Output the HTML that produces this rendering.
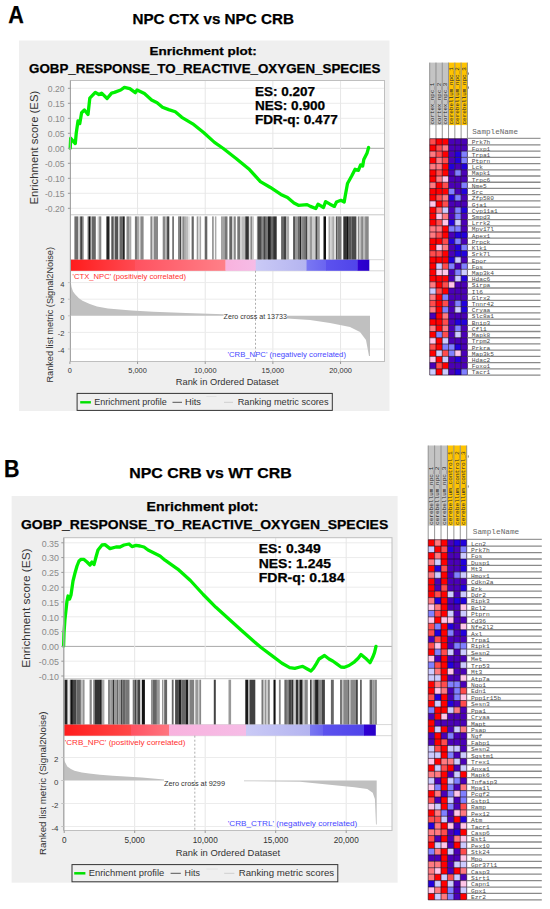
<!DOCTYPE html>
<html><head><meta charset="utf-8"><style>
html,body{margin:0;padding:0;background:#fff;width:550px;height:909px;overflow:hidden}
svg{display:block}
</style></head><body>
<svg width="550" height="909" viewBox="0 0 550 909">
<rect width="550" height="909" fill="#fff"/>
<text x="8.2" y="22.9" font-size="23.0" fill="#000" text-anchor="start" font-weight="bold" stroke="#000" stroke-width="0.25" textLength="15.6" lengthAdjust="spacingAndGlyphs" style='font-family:"Liberation Sans", sans-serif'>A</text>
<text x="132.4" y="23.6" font-size="14.6" fill="#000" text-anchor="start" font-weight="bold" stroke="#000" stroke-width="0.25" textLength="161.6" lengthAdjust="spacingAndGlyphs" style='font-family:"Liberation Sans", sans-serif'>NPC CTX vs NPC CRB</text>
<text x="4.1" y="476.9" font-size="23.2" fill="#000" text-anchor="start" font-weight="bold" stroke="#000" stroke-width="0.25" textLength="15.5" lengthAdjust="spacingAndGlyphs" style='font-family:"Liberation Sans", sans-serif'>B</text>
<text x="129.2" y="478.0" font-size="14.6" fill="#000" text-anchor="start" font-weight="bold" stroke="#000" stroke-width="0.25" textLength="162.6" lengthAdjust="spacingAndGlyphs" style='font-family:"Liberation Sans", sans-serif'>NPC CRB vs WT CRB</text>
<rect x="19.00" y="40.50" width="370.50" height="370.50" fill="#efefef"/>
<text x="149.6" y="54.6" font-size="11.6" fill="#000" text-anchor="start" font-weight="bold" stroke="#000" stroke-width="0.25" textLength="107.20000000000002" lengthAdjust="spacingAndGlyphs" style='font-family:"Liberation Sans", sans-serif'>Enrichment plot:</text>
<text x="29" y="72.6" font-size="12.9" fill="#000" text-anchor="start" font-weight="bold" stroke="#000" stroke-width="0.25" textLength="351.4" lengthAdjust="spacingAndGlyphs" style='font-family:"Liberation Sans", sans-serif'>GOBP_RESPONSE_TO_REACTIVE_OXYGEN_SPECIES</text>
<rect x="70.40" y="80.50" width="314.10" height="281.00" fill="#fff"/>
<line x1="70.40" y1="88.30" x2="384.50" y2="88.30" stroke="#ececec" stroke-width="1"/>
<line x1="70.40" y1="103.30" x2="384.50" y2="103.30" stroke="#ececec" stroke-width="1"/>
<line x1="70.40" y1="118.30" x2="384.50" y2="118.30" stroke="#ececec" stroke-width="1"/>
<line x1="70.40" y1="133.30" x2="384.50" y2="133.30" stroke="#ececec" stroke-width="1"/>
<line x1="70.40" y1="148.30" x2="384.50" y2="148.30" stroke="#a8a8a8" stroke-width="1"/>
<line x1="70.40" y1="163.30" x2="384.50" y2="163.30" stroke="#ececec" stroke-width="1"/>
<line x1="70.40" y1="178.30" x2="384.50" y2="178.30" stroke="#ececec" stroke-width="1"/>
<line x1="70.40" y1="193.30" x2="384.50" y2="193.30" stroke="#ececec" stroke-width="1"/>
<line x1="70.40" y1="208.30" x2="384.50" y2="208.30" stroke="#ececec" stroke-width="1"/>
<line x1="137.56" y1="80.50" x2="137.56" y2="214.80" stroke="#e6e6e6" stroke-width="1"/>
<line x1="137.56" y1="270.80" x2="137.56" y2="361.50" stroke="#e6e6e6" stroke-width="1"/>
<line x1="205.23" y1="80.50" x2="205.23" y2="214.80" stroke="#e6e6e6" stroke-width="1"/>
<line x1="205.23" y1="270.80" x2="205.23" y2="361.50" stroke="#e6e6e6" stroke-width="1"/>
<line x1="272.89" y1="80.50" x2="272.89" y2="214.80" stroke="#e6e6e6" stroke-width="1"/>
<line x1="272.89" y1="270.80" x2="272.89" y2="361.50" stroke="#e6e6e6" stroke-width="1"/>
<line x1="340.56" y1="80.50" x2="340.56" y2="214.80" stroke="#e6e6e6" stroke-width="1"/>
<line x1="340.56" y1="270.80" x2="340.56" y2="361.50" stroke="#e6e6e6" stroke-width="1"/>
<line x1="70.40" y1="282.60" x2="384.50" y2="282.60" stroke="#ececec" stroke-width="1"/>
<line x1="70.40" y1="299.20" x2="384.50" y2="299.20" stroke="#ececec" stroke-width="1"/>
<line x1="70.40" y1="332.40" x2="384.50" y2="332.40" stroke="#ececec" stroke-width="1"/>
<line x1="70.40" y1="349.00" x2="384.50" y2="349.00" stroke="#ececec" stroke-width="1"/>
<line x1="70.40" y1="214.80" x2="384.50" y2="214.80" stroke="#c8c8c8" stroke-width="1"/>
<line x1="70.40" y1="259.70" x2="384.50" y2="259.70" stroke="#d8d8d8" stroke-width="1"/>
<line x1="70.40" y1="270.80" x2="384.50" y2="270.80" stroke="#d8d8d8" stroke-width="1"/>
<rect x="74.40" y="216.40" width="3.60" height="43.30" fill="#6e6e6e"/>
<rect x="78.00" y="216.40" width="2.20" height="43.30" fill="#ccc"/>
<rect x="80.20" y="216.40" width="2.50" height="43.30" fill="#444"/>
<rect x="82.70" y="216.40" width="1.10" height="43.30" fill="#999"/>
<rect x="87.50" y="216.40" width="1.00" height="43.30" fill="#888"/>
<rect x="88.50" y="216.40" width="2.20" height="43.30" fill="#111"/>
<rect x="90.70" y="216.40" width="1.10" height="43.30" fill="#bbb"/>
<rect x="91.80" y="216.40" width="4.00" height="43.30" fill="#666"/>
<rect x="97.60" y="216.40" width="1.50" height="43.30" fill="#ccc"/>
<rect x="99.10" y="216.40" width="2.20" height="43.30" fill="#888"/>
<rect x="106.40" y="216.40" width="3.10" height="43.30" fill="#222"/>
<rect x="111.30" y="216.40" width="2.50" height="43.30" fill="#555"/>
<rect x="113.80" y="216.40" width="1.10" height="43.30" fill="#bbb"/>
<rect x="114.90" y="216.40" width="3.30" height="43.30" fill="#555"/>
<rect x="118.20" y="216.40" width="1.40" height="43.30" fill="#ccc"/>
<rect x="119.60" y="216.40" width="2.90" height="43.30" fill="#666"/>
<rect x="122.50" y="216.40" width="2.20" height="43.30" fill="#222"/>
<rect x="126.50" y="216.40" width="2.60" height="43.30" fill="#888"/>
<rect x="129.10" y="216.40" width="2.20" height="43.30" fill="#aaa"/>
<rect x="134.90" y="216.40" width="2.20" height="43.30" fill="#777"/>
<rect x="137.10" y="216.40" width="1.80" height="43.30" fill="#999"/>
<rect x="138.90" y="216.40" width="1.50" height="43.30" fill="#ddd"/>
<rect x="140.40" y="216.40" width="3.20" height="43.30" fill="#888"/>
<rect x="150.40" y="216.40" width="2.10" height="43.30" fill="#888"/>
<rect x="152.50" y="216.40" width="1.50" height="43.30" fill="#ccc"/>
<rect x="154.00" y="216.40" width="4.00" height="43.30" fill="#888"/>
<rect x="162.70" y="216.40" width="2.60" height="43.30" fill="#888"/>
<rect x="165.30" y="216.40" width="1.80" height="43.30" fill="#aaa"/>
<rect x="167.10" y="216.40" width="2.20" height="43.30" fill="#444"/>
<rect x="172.20" y="216.40" width="1.80" height="43.30" fill="#777"/>
<rect x="178.00" y="216.40" width="1.50" height="43.30" fill="#888"/>
<rect x="179.50" y="216.40" width="1.80" height="43.30" fill="#444"/>
<rect x="181.30" y="216.40" width="1.10" height="43.30" fill="#ccc"/>
<rect x="182.40" y="216.40" width="1.80" height="43.30" fill="#888"/>
<rect x="184.20" y="216.40" width="1.60" height="43.30" fill="#999"/>
<rect x="185.80" y="216.40" width="2.20" height="43.30" fill="#bbb"/>
<rect x="188.00" y="216.40" width="1.80" height="43.30" fill="#ddd"/>
<rect x="191.60" y="216.40" width="2.20" height="43.30" fill="#666"/>
<rect x="196.70" y="216.40" width="1.80" height="43.30" fill="#999"/>
<rect x="198.50" y="216.40" width="1.10" height="43.30" fill="#ddd"/>
<rect x="199.60" y="216.40" width="1.50" height="43.30" fill="#aaa"/>
<rect x="204.70" y="216.40" width="2.60" height="43.30" fill="#666"/>
<rect x="212.00" y="216.40" width="1.80" height="43.30" fill="#999"/>
<rect x="214.90" y="216.40" width="1.50" height="43.30" fill="#aaa"/>
<rect x="221.10" y="216.40" width="1.80" height="43.30" fill="#999"/>
<rect x="222.90" y="216.40" width="0.20" height="43.30" fill="#bbb"/>
<rect x="223.10" y="216.40" width="1.80" height="43.30" fill="#999"/>
<rect x="224.90" y="216.40" width="2.60" height="43.30" fill="#777"/>
<rect x="229.30" y="216.40" width="2.90" height="43.30" fill="#666"/>
<rect x="232.20" y="216.40" width="1.80" height="43.30" fill="#ccc"/>
<rect x="234.00" y="216.40" width="1.80" height="43.30" fill="#888"/>
<rect x="237.30" y="216.40" width="2.90" height="43.30" fill="#777"/>
<rect x="240.20" y="216.40" width="1.40" height="43.30" fill="#ccc"/>
<rect x="241.60" y="216.40" width="3.70" height="43.30" fill="#bbb"/>
<rect x="245.30" y="216.40" width="3.60" height="43.30" fill="#333"/>
<rect x="248.90" y="216.40" width="1.50" height="43.30" fill="#ddd"/>
<rect x="250.40" y="216.40" width="2.10" height="43.30" fill="#888"/>
<rect x="252.50" y="216.40" width="1.50" height="43.30" fill="#ccc"/>
<rect x="256.90" y="216.40" width="1.10" height="43.30" fill="#888"/>
<rect x="258.00" y="216.40" width="3.80" height="43.30" fill="#4a4a4a"/>
<rect x="261.80" y="216.40" width="1.50" height="43.30" fill="#888"/>
<rect x="263.30" y="216.40" width="2.50" height="43.30" fill="#444"/>
<rect x="265.80" y="216.40" width="2.20" height="43.30" fill="#777"/>
<rect x="268.00" y="216.40" width="2.90" height="43.30" fill="#222"/>
<rect x="270.90" y="216.40" width="2.20" height="43.30" fill="#666"/>
<rect x="273.10" y="216.40" width="3.60" height="43.30" fill="#333"/>
<rect x="281.10" y="216.40" width="2.90" height="43.30" fill="#666"/>
<rect x="284.00" y="216.40" width="2.20" height="43.30" fill="#444"/>
<rect x="286.20" y="216.40" width="2.90" height="43.30" fill="#aaa"/>
<rect x="293.10" y="216.40" width="2.50" height="43.30" fill="#555"/>
<rect x="295.60" y="216.40" width="2.40" height="43.30" fill="#999"/>
<rect x="298.00" y="216.40" width="1.50" height="43.30" fill="#666"/>
<rect x="299.50" y="216.40" width="1.80" height="43.30" fill="#222"/>
<rect x="301.30" y="216.40" width="1.80" height="43.30" fill="#888"/>
<rect x="303.10" y="216.40" width="2.20" height="43.30" fill="#777"/>
<rect x="305.30" y="216.40" width="2.20" height="43.30" fill="#444"/>
<rect x="307.50" y="216.40" width="2.10" height="43.30" fill="#ccc"/>
<rect x="309.60" y="216.40" width="2.90" height="43.30" fill="#999"/>
<rect x="312.50" y="216.40" width="3.00" height="43.30" fill="#ccc"/>
<rect x="315.50" y="216.40" width="2.10" height="43.30" fill="#444"/>
<rect x="317.60" y="216.40" width="2.20" height="43.30" fill="#999"/>
<rect x="323.50" y="216.40" width="2.50" height="43.30" fill="#111"/>
<rect x="328.50" y="216.40" width="1.90" height="43.30" fill="#aaa"/>
<rect x="330.40" y="216.40" width="1.80" height="43.30" fill="#ccc"/>
<rect x="332.20" y="216.40" width="2.20" height="43.30" fill="#aaa"/>
<rect x="335.80" y="216.40" width="1.70" height="43.30" fill="#555"/>
<rect x="337.50" y="216.40" width="4.00" height="43.30" fill="#777"/>
<rect x="343.30" y="216.40" width="2.90" height="43.30" fill="#333"/>
<rect x="346.20" y="216.40" width="1.80" height="43.30" fill="#111"/>
<rect x="348.00" y="216.40" width="3.30" height="43.30" fill="#555"/>
<rect x="351.30" y="216.40" width="5.10" height="43.30" fill="#4a4a4a"/>
<rect x="357.80" y="216.40" width="1.50" height="43.30" fill="#888"/>
<rect x="359.30" y="216.40" width="1.80" height="43.30" fill="#bbb"/>
<rect x="361.10" y="216.40" width="2.50" height="43.30" fill="#888"/>
<rect x="363.60" y="216.40" width="1.50" height="43.30" fill="#bbb"/>
<rect x="365.10" y="216.40" width="3.60" height="43.30" fill="#888"/>
<linearGradient id="Ag0" x1="0" x2="1" y1="0" y2="0"><stop offset="0" stop-color="#ff1c1c"/><stop offset="1" stop-color="#ff4a52"/></linearGradient>
<rect x="70.40" y="259.70" width="64.90" height="11.10" fill="url(#Ag0)"/>
<linearGradient id="Ag1" x1="0" x2="1" y1="0" y2="0"><stop offset="0" stop-color="#ff5260"/><stop offset="1" stop-color="#ff8088"/></linearGradient>
<rect x="135.00" y="259.70" width="90.80" height="11.10" fill="url(#Ag1)"/>
<linearGradient id="Ag2" x1="0" x2="1" y1="0" y2="0"><stop offset="0" stop-color="#f8b2de"/><stop offset="1" stop-color="#f6bce6"/></linearGradient>
<rect x="225.50" y="259.70" width="30.50" height="11.10" fill="url(#Ag2)"/>
<linearGradient id="Ag3" x1="0" x2="1" y1="0" y2="0"><stop offset="0" stop-color="#cacaf6"/><stop offset="1" stop-color="#b4b4f0"/></linearGradient>
<rect x="255.70" y="259.70" width="51.00" height="11.10" fill="url(#Ag3)"/>
<linearGradient id="Ag4" x1="0" x2="1" y1="0" y2="0"><stop offset="0" stop-color="#7a78f2"/><stop offset="1" stop-color="#6a64f0"/></linearGradient>
<rect x="306.40" y="259.70" width="19.90" height="11.10" fill="url(#Ag4)"/>
<linearGradient id="Ag5" x1="0" x2="1" y1="0" y2="0"><stop offset="0" stop-color="#5c52ee"/><stop offset="1" stop-color="#5044ea"/></linearGradient>
<rect x="326.00" y="259.70" width="31.80" height="11.10" fill="url(#Ag5)"/>
<linearGradient id="Ag6" x1="0" x2="1" y1="0" y2="0"><stop offset="0" stop-color="#3000d4"/><stop offset="1" stop-color="#2800c8"/></linearGradient>
<rect x="357.50" y="259.70" width="11.80" height="11.10" fill="url(#Ag6)"/>
<path d="M70.5,315.8 L70.5,280.5 L70.9,283 L71.5,287 L73,291.5 L75.3,294.5 L78.9,298.2 L82.5,300.7 L89.8,304 L97,306.5 L108,308.4 L131.5,310.5 L153.3,311.7 L186,313 L223.6,314.3 L223.6,315.8 Z" fill="#c0c0c0"/>
<path d="M287,315.8 L287,317.2 L287,318.4 L310,320 L330,323 L350,327 L360,332 L366,340 L369,356 L370,356 L370,315.8 Z" fill="#c0c0c0"/>
<line x1="255.50" y1="270.80" x2="255.50" y2="361.50" stroke="#999" stroke-width="0.8" stroke-dasharray="2,2"/>
<text x="223.6" y="318.5" font-size="7.2" fill="#333" text-anchor="start" textLength="63.29999999999998" lengthAdjust="spacingAndGlyphs" style='font-family:"Liberation Sans", sans-serif'>Zero cross at 13733</text>
<text x="72.5" y="278.6" font-size="7.2" fill="#ff3030" text-anchor="start" textLength="113.5" lengthAdjust="spacingAndGlyphs" style='font-family:"Liberation Sans", sans-serif'>'CTX_NPC' (positively correlated)</text>
<text x="227.5" y="357.2" font-size="7.2" fill="#4848ff" text-anchor="start" textLength="118.5" lengthAdjust="spacingAndGlyphs" style='font-family:"Liberation Sans", sans-serif'>'CRB_NPC' (negatively correlated)</text>
<path d="M70.2,148.2 L70.7,138.2 L75.3,143.6 L76.2,133.6 L78,120.9 L79.8,123.6 L81.6,112.7 L84.4,110 L88,114.5 L89.8,98.2 L95.3,92.4 L98.9,94.5 L101.6,93.1 L107.1,98.5 L111.6,93.1 L114.4,92.4 L120.7,90 L124.4,87.3 L129.8,88.7 L135.3,92.7 L137.1,90 L144.4,93.6 L151.6,100 L157.1,102.7 L162.5,107.2 L168.7,109.6 L175.3,111.8 L181.8,117.3 L192.7,123.8 L203.6,132.5 L214.5,142.4 L223.3,148.5 L236.4,158.7 L249.5,169.6 L260.4,181.6 L270,187.2 L280.9,194.4 L287.5,197.6 L294,203.1 L298.4,205.3 L307.1,204.6 L310.4,206.4 L315.8,208.5 L318,204.2 L323.5,207.5 L325.6,201.6 L330,204.2 L334.4,206.4 L336.5,202 L340.9,200.3 L344.2,202 L345.3,195.5 L347.5,183.5 L351.8,175.8 L355.1,169.3 L358.4,170.4 L360.6,164.9 L362.7,166 L363.8,159.5 L367.1,152.9 L368.6,147.5" fill="none" stroke="#00f000" stroke-width="3.3" stroke-linejoin="round" stroke-linecap="round"/>
<rect x="70.4" y="80.5" width="314.1" height="281.0" fill="none" stroke="#bfbfbf" stroke-width="1"/>
<line x1="70.40" y1="80.50" x2="70.40" y2="361.50" stroke="#a0a0a0" stroke-width="1"/>
<line x1="67.90" y1="88.30" x2="70.40" y2="88.30" stroke="#999" stroke-width="1"/>
<text x="64.6" y="91.99600000000001" font-size="8.6" fill="#8a8a8a" text-anchor="end" style='font-family:"Liberation Sans", sans-serif'>0.20</text>
<line x1="67.90" y1="103.30" x2="70.40" y2="103.30" stroke="#999" stroke-width="1"/>
<text x="64.6" y="106.99600000000001" font-size="8.6" fill="#8a8a8a" text-anchor="end" style='font-family:"Liberation Sans", sans-serif'>0.15</text>
<line x1="67.90" y1="118.30" x2="70.40" y2="118.30" stroke="#999" stroke-width="1"/>
<text x="64.6" y="121.99600000000001" font-size="8.6" fill="#8a8a8a" text-anchor="end" style='font-family:"Liberation Sans", sans-serif'>0.10</text>
<line x1="67.90" y1="133.30" x2="70.40" y2="133.30" stroke="#999" stroke-width="1"/>
<text x="64.6" y="136.996" font-size="8.6" fill="#8a8a8a" text-anchor="end" style='font-family:"Liberation Sans", sans-serif'>0.05</text>
<line x1="67.90" y1="148.30" x2="70.40" y2="148.30" stroke="#999" stroke-width="1"/>
<text x="64.6" y="151.996" font-size="8.6" fill="#8a8a8a" text-anchor="end" style='font-family:"Liberation Sans", sans-serif'>0.00</text>
<line x1="67.90" y1="163.30" x2="70.40" y2="163.30" stroke="#999" stroke-width="1"/>
<text x="64.6" y="166.996" font-size="8.6" fill="#8a8a8a" text-anchor="end" style='font-family:"Liberation Sans", sans-serif'>-0.05</text>
<line x1="67.90" y1="178.30" x2="70.40" y2="178.30" stroke="#999" stroke-width="1"/>
<text x="64.6" y="181.996" font-size="8.6" fill="#8a8a8a" text-anchor="end" style='font-family:"Liberation Sans", sans-serif'>-0.10</text>
<line x1="67.90" y1="193.30" x2="70.40" y2="193.30" stroke="#999" stroke-width="1"/>
<text x="64.6" y="196.996" font-size="8.6" fill="#8a8a8a" text-anchor="end" style='font-family:"Liberation Sans", sans-serif'>-0.15</text>
<line x1="67.90" y1="208.30" x2="70.40" y2="208.30" stroke="#999" stroke-width="1"/>
<text x="64.6" y="211.996" font-size="8.6" fill="#8a8a8a" text-anchor="end" style='font-family:"Liberation Sans", sans-serif'>-0.20</text>
<line x1="67.90" y1="282.60" x2="70.40" y2="282.60" stroke="#c4c4c4" stroke-width="1"/>
<text x="64.5" y="286.536" font-size="7.6" fill="#3a3a3a" text-anchor="end" style='font-family:"Liberation Sans", sans-serif'>4</text>
<line x1="67.90" y1="299.20" x2="70.40" y2="299.20" stroke="#c4c4c4" stroke-width="1"/>
<text x="64.5" y="303.13599999999997" font-size="7.6" fill="#3a3a3a" text-anchor="end" style='font-family:"Liberation Sans", sans-serif'>2</text>
<line x1="67.90" y1="315.80" x2="70.40" y2="315.80" stroke="#c4c4c4" stroke-width="1"/>
<text x="64.5" y="319.736" font-size="7.6" fill="#3a3a3a" text-anchor="end" style='font-family:"Liberation Sans", sans-serif'>0</text>
<line x1="67.90" y1="332.40" x2="70.40" y2="332.40" stroke="#c4c4c4" stroke-width="1"/>
<text x="64.5" y="336.336" font-size="7.6" fill="#3a3a3a" text-anchor="end" style='font-family:"Liberation Sans", sans-serif'>-2</text>
<line x1="67.90" y1="349.00" x2="70.40" y2="349.00" stroke="#c4c4c4" stroke-width="1"/>
<text x="64.5" y="352.936" font-size="7.6" fill="#3a3a3a" text-anchor="end" style='font-family:"Liberation Sans", sans-serif'>-4</text>
<line x1="69.90" y1="361.50" x2="69.90" y2="364.00" stroke="#999" stroke-width="1"/>
<text x="69.9" y="372.6" font-size="7.4" fill="#333" text-anchor="middle" style='font-family:"Liberation Sans", sans-serif'>0</text>
<line x1="137.56" y1="361.50" x2="137.56" y2="364.00" stroke="#999" stroke-width="1"/>
<text x="137.565" y="372.6" font-size="7.4" fill="#333" text-anchor="middle" style='font-family:"Liberation Sans", sans-serif'>5,000</text>
<line x1="205.23" y1="361.50" x2="205.23" y2="364.00" stroke="#999" stroke-width="1"/>
<text x="205.23000000000002" y="372.6" font-size="7.4" fill="#333" text-anchor="middle" style='font-family:"Liberation Sans", sans-serif'>10,000</text>
<line x1="272.89" y1="361.50" x2="272.89" y2="364.00" stroke="#999" stroke-width="1"/>
<text x="272.895" y="372.6" font-size="7.4" fill="#333" text-anchor="middle" style='font-family:"Liberation Sans", sans-serif'>15,000</text>
<line x1="340.56" y1="361.50" x2="340.56" y2="364.00" stroke="#999" stroke-width="1"/>
<text x="340.56000000000006" y="372.6" font-size="7.4" fill="#333" text-anchor="middle" style='font-family:"Liberation Sans", sans-serif'>20,000</text>
<text x="175.8" y="385.2" font-size="9.2" fill="#333" text-anchor="start" textLength="102.89999999999998" lengthAdjust="spacingAndGlyphs" style='font-family:"Liberation Sans", sans-serif'>Rank in Ordered Dataset</text>
<text x="0" y="0" transform="translate(38.1,147.7) rotate(-90)" font-size="10" fill="#333" text-anchor="middle" textLength="113.8" lengthAdjust="spacingAndGlyphs" style='font-family:"Liberation Sans", sans-serif'>Enrichment score (ES)</text>
<text x="0" y="0" transform="translate(52.745000000000005,314.8) rotate(-90)" font-size="8.7" fill="#333" text-anchor="middle" textLength="135.5" lengthAdjust="spacingAndGlyphs" style='font-family:"Liberation Sans", sans-serif'>Ranked list metric (Signal2Noise)</text>
<text x="255" y="96.3" font-size="12.2" fill="#000" text-anchor="start" font-weight="bold" stroke="#000" stroke-width="0.25" textLength="60" lengthAdjust="spacingAndGlyphs" style='font-family:"Liberation Sans", sans-serif'>ES: 0.207</text>
<text x="255" y="110.0" font-size="12.2" fill="#000" text-anchor="start" font-weight="bold" stroke="#000" stroke-width="0.25" textLength="70" lengthAdjust="spacingAndGlyphs" style='font-family:"Liberation Sans", sans-serif'>NES: 0.900</text>
<text x="255" y="123.6" font-size="12.2" fill="#000" text-anchor="start" font-weight="bold" stroke="#000" stroke-width="0.25" textLength="82.7" lengthAdjust="spacingAndGlyphs" style='font-family:"Liberation Sans", sans-serif'>FDR-q: 0.477</text>
<rect x="77.1" y="393.4" width="255.20000000000002" height="17.0" fill="none" stroke="#333" stroke-width="1"/>
<line x1="80.20" y1="402.30" x2="90.90" y2="402.30" stroke="#00e000" stroke-width="2.4"/>
<text x="94.2" y="405.4" font-size="9.0" fill="#333" text-anchor="start" textLength="72.49999999999999" lengthAdjust="spacingAndGlyphs" style='font-family:"Liberation Sans", sans-serif'>Enrichment profile</text>
<line x1="172.50" y1="402.30" x2="182.00" y2="402.30" stroke="#555" stroke-width="1"/>
<text x="185" y="405.4" font-size="9.0" fill="#333" text-anchor="start" textLength="16" lengthAdjust="spacingAndGlyphs" style='font-family:"Liberation Sans", sans-serif'>Hits</text>
<line x1="206.40" y1="396.50" x2="216.50" y2="396.50" stroke="#e2e2e2" stroke-width="1"/>
<line x1="224.00" y1="402.30" x2="233.00" y2="402.30" stroke="#cfcfcf" stroke-width="1"/>
<text x="237.7" y="405.4" font-size="9.0" fill="#333" text-anchor="start" textLength="90.80000000000001" lengthAdjust="spacingAndGlyphs" style='font-family:"Liberation Sans", sans-serif'>Ranking metric scores</text>
<rect x="11.60" y="496.00" width="386.00" height="386.70" fill="#efefef"/>
<text x="146.5" y="510.6" font-size="12.0" fill="#000" text-anchor="start" font-weight="bold" stroke="#000" stroke-width="0.25" textLength="112.0" lengthAdjust="spacingAndGlyphs" style='font-family:"Liberation Sans", sans-serif'>Enrichment plot:</text>
<text x="21" y="528.7" font-size="13.4" fill="#000" text-anchor="start" font-weight="bold" stroke="#000" stroke-width="0.25" textLength="367.2" lengthAdjust="spacingAndGlyphs" style='font-family:"Liberation Sans", sans-serif'>GOBP_RESPONSE_TO_REACTIVE_OXYGEN_SPECIES</text>
<rect x="63.80" y="537.70" width="328.20" height="292.80" fill="#fff"/>
<line x1="63.80" y1="542.80" x2="392.00" y2="542.80" stroke="#ececec" stroke-width="1"/>
<line x1="63.80" y1="557.60" x2="392.00" y2="557.60" stroke="#ececec" stroke-width="1"/>
<line x1="63.80" y1="572.40" x2="392.00" y2="572.40" stroke="#ececec" stroke-width="1"/>
<line x1="63.80" y1="587.20" x2="392.00" y2="587.20" stroke="#ececec" stroke-width="1"/>
<line x1="63.80" y1="602.00" x2="392.00" y2="602.00" stroke="#ececec" stroke-width="1"/>
<line x1="63.80" y1="616.80" x2="392.00" y2="616.80" stroke="#ececec" stroke-width="1"/>
<line x1="63.80" y1="631.60" x2="392.00" y2="631.60" stroke="#ececec" stroke-width="1"/>
<line x1="63.80" y1="646.40" x2="392.00" y2="646.40" stroke="#a8a8a8" stroke-width="1"/>
<line x1="63.80" y1="661.20" x2="392.00" y2="661.20" stroke="#ececec" stroke-width="1"/>
<line x1="63.80" y1="676.00" x2="392.00" y2="676.00" stroke="#ececec" stroke-width="1"/>
<line x1="134.70" y1="537.70" x2="134.70" y2="678.70" stroke="#e6e6e6" stroke-width="1"/>
<line x1="134.70" y1="735.70" x2="134.70" y2="830.50" stroke="#e6e6e6" stroke-width="1"/>
<line x1="205.20" y1="537.70" x2="205.20" y2="678.70" stroke="#e6e6e6" stroke-width="1"/>
<line x1="205.20" y1="735.70" x2="205.20" y2="830.50" stroke="#e6e6e6" stroke-width="1"/>
<line x1="275.70" y1="537.70" x2="275.70" y2="678.70" stroke="#e6e6e6" stroke-width="1"/>
<line x1="275.70" y1="735.70" x2="275.70" y2="830.50" stroke="#e6e6e6" stroke-width="1"/>
<line x1="346.20" y1="537.70" x2="346.20" y2="678.70" stroke="#e6e6e6" stroke-width="1"/>
<line x1="346.20" y1="735.70" x2="346.20" y2="830.50" stroke="#e6e6e6" stroke-width="1"/>
<line x1="63.80" y1="757.50" x2="392.00" y2="757.50" stroke="#ececec" stroke-width="1"/>
<line x1="63.80" y1="803.50" x2="392.00" y2="803.50" stroke="#ececec" stroke-width="1"/>
<line x1="63.80" y1="826.50" x2="392.00" y2="826.50" stroke="#ececec" stroke-width="1"/>
<line x1="63.80" y1="678.70" x2="392.00" y2="678.70" stroke="#c8c8c8" stroke-width="1"/>
<line x1="63.80" y1="724.60" x2="392.00" y2="724.60" stroke="#d8d8d8" stroke-width="1"/>
<line x1="63.80" y1="735.70" x2="392.00" y2="735.70" stroke="#d8d8d8" stroke-width="1"/>
<rect x="63.10" y="679.70" width="1.80" height="44.90" fill="#666"/>
<rect x="64.90" y="679.70" width="2.60" height="44.90" fill="#222"/>
<rect x="67.50" y="679.70" width="0.70" height="44.90" fill="#999"/>
<rect x="69.60" y="679.70" width="0.80" height="44.90" fill="#999"/>
<rect x="70.40" y="679.70" width="2.50" height="44.90" fill="#111"/>
<rect x="72.90" y="679.70" width="3.60" height="44.90" fill="#444"/>
<rect x="76.50" y="679.70" width="4.40" height="44.90" fill="#666"/>
<rect x="80.90" y="679.70" width="2.20" height="44.90" fill="#bbb"/>
<rect x="83.10" y="679.70" width="1.40" height="44.90" fill="#888"/>
<rect x="89.60" y="679.70" width="2.20" height="44.90" fill="#888"/>
<rect x="93.30" y="679.70" width="1.40" height="44.90" fill="#777"/>
<rect x="94.70" y="679.70" width="4.40" height="44.90" fill="#333"/>
<rect x="99.10" y="679.70" width="2.70" height="44.90" fill="#222"/>
<rect x="101.80" y="679.70" width="2.60" height="44.90" fill="#aaa"/>
<rect x="108.00" y="679.70" width="2.20" height="44.90" fill="#888"/>
<rect x="110.20" y="679.70" width="2.50" height="44.90" fill="#999"/>
<rect x="112.70" y="679.70" width="1.80" height="44.90" fill="#333"/>
<rect x="114.50" y="679.70" width="2.50" height="44.90" fill="#999"/>
<rect x="117.00" y="679.70" width="1.20" height="44.90" fill="#666"/>
<rect x="118.20" y="679.70" width="2.90" height="44.90" fill="#999"/>
<rect x="121.10" y="679.70" width="1.40" height="44.90" fill="#333"/>
<rect x="122.50" y="679.70" width="2.60" height="44.90" fill="#666"/>
<rect x="125.10" y="679.70" width="4.40" height="44.90" fill="#777"/>
<rect x="132.70" y="679.70" width="2.20" height="44.90" fill="#777"/>
<rect x="134.90" y="679.70" width="1.50" height="44.90" fill="#444"/>
<rect x="136.40" y="679.70" width="1.60" height="44.90" fill="#777"/>
<rect x="138.00" y="679.70" width="2.20" height="44.90" fill="#444"/>
<rect x="140.20" y="679.70" width="1.80" height="44.90" fill="#ccc"/>
<rect x="142.00" y="679.70" width="2.90" height="44.90" fill="#111"/>
<rect x="151.10" y="679.70" width="1.40" height="44.90" fill="#888"/>
<rect x="152.50" y="679.70" width="4.40" height="44.90" fill="#666"/>
<rect x="156.90" y="679.70" width="2.90" height="44.90" fill="#999"/>
<rect x="162.00" y="679.70" width="1.10" height="44.90" fill="#999"/>
<rect x="163.10" y="679.70" width="1.10" height="44.90" fill="#ccc"/>
<rect x="164.20" y="679.70" width="2.90" height="44.90" fill="#666"/>
<rect x="171.80" y="679.70" width="1.80" height="44.90" fill="#666"/>
<rect x="175.10" y="679.70" width="3.80" height="44.90" fill="#4a4a4a"/>
<rect x="178.90" y="679.70" width="2.60" height="44.90" fill="#1a1a1a"/>
<rect x="181.50" y="679.70" width="4.00" height="44.90" fill="#666"/>
<rect x="185.50" y="679.70" width="2.90" height="44.90" fill="#1a1a1a"/>
<rect x="188.40" y="679.70" width="1.10" height="44.90" fill="#ccc"/>
<rect x="189.50" y="679.70" width="4.70" height="44.90" fill="#808080"/>
<rect x="195.30" y="679.70" width="3.20" height="44.90" fill="#999"/>
<rect x="199.30" y="679.70" width="1.80" height="44.90" fill="#888"/>
<rect x="213.80" y="679.70" width="2.00" height="44.90" fill="#444"/>
<rect x="228.50" y="679.70" width="2.60" height="44.90" fill="#999"/>
<rect x="245.30" y="679.70" width="2.90" height="44.90" fill="#1a1a1a"/>
<rect x="248.20" y="679.70" width="1.40" height="44.90" fill="#aaa"/>
<rect x="249.60" y="679.70" width="5.70" height="44.90" fill="#404040"/>
<rect x="261.50" y="679.70" width="2.10" height="44.90" fill="#777"/>
<rect x="263.60" y="679.70" width="1.50" height="44.90" fill="#ccc"/>
<rect x="265.10" y="679.70" width="1.40" height="44.90" fill="#888"/>
<rect x="266.50" y="679.70" width="1.50" height="44.90" fill="#ccc"/>
<rect x="268.00" y="679.70" width="1.80" height="44.90" fill="#888"/>
<rect x="273.50" y="679.70" width="2.10" height="44.90" fill="#111"/>
<rect x="278.90" y="679.70" width="1.80" height="44.90" fill="#888"/>
<rect x="284.40" y="679.70" width="2.50" height="44.90" fill="#666"/>
<rect x="286.90" y="679.70" width="1.50" height="44.90" fill="#888"/>
<rect x="288.40" y="679.70" width="3.40" height="44.90" fill="#444"/>
<rect x="291.80" y="679.70" width="1.80" height="44.90" fill="#333"/>
<rect x="293.60" y="679.70" width="2.20" height="44.90" fill="#ccc"/>
<rect x="295.80" y="679.70" width="2.20" height="44.90" fill="#333"/>
<rect x="298.00" y="679.70" width="1.50" height="44.90" fill="#999"/>
<rect x="299.50" y="679.70" width="3.20" height="44.90" fill="#222"/>
<rect x="302.70" y="679.70" width="1.80" height="44.90" fill="#ccc"/>
<rect x="304.50" y="679.70" width="3.30" height="44.90" fill="#888"/>
<rect x="310.00" y="679.70" width="1.80" height="44.90" fill="#444"/>
<rect x="311.80" y="679.70" width="1.50" height="44.90" fill="#ccc"/>
<rect x="313.30" y="679.70" width="1.80" height="44.90" fill="#888"/>
<rect x="315.10" y="679.70" width="3.60" height="44.90" fill="#222"/>
<rect x="318.70" y="679.70" width="3.30" height="44.90" fill="#888"/>
<rect x="322.00" y="679.70" width="2.90" height="44.90" fill="#444"/>
<rect x="330.90" y="679.70" width="2.90" height="44.90" fill="#666"/>
<rect x="340.00" y="679.70" width="2.20" height="44.90" fill="#777"/>
<rect x="342.20" y="679.70" width="1.10" height="44.90" fill="#bbb"/>
<rect x="343.30" y="679.70" width="4.00" height="44.90" fill="#888"/>
<rect x="347.30" y="679.70" width="1.80" height="44.90" fill="#666"/>
<rect x="349.10" y="679.70" width="1.40" height="44.90" fill="#bbb"/>
<rect x="350.50" y="679.70" width="5.50" height="44.90" fill="#888"/>
<rect x="356.00" y="679.70" width="1.80" height="44.90" fill="#444"/>
<rect x="360.00" y="679.70" width="1.80" height="44.90" fill="#666"/>
<rect x="369.60" y="679.70" width="2.90" height="44.90" fill="#666"/>
<rect x="372.50" y="679.70" width="2.20" height="44.90" fill="#999"/>
<rect x="374.70" y="679.70" width="2.20" height="44.90" fill="#888"/>
<linearGradient id="Bg0" x1="0" x2="1" y1="0" y2="0"><stop offset="0" stop-color="#ff1c1c"/><stop offset="1" stop-color="#ff4848"/></linearGradient>
<rect x="63.80" y="724.60" width="67.50" height="11.10" fill="url(#Bg0)"/>
<linearGradient id="Bg1" x1="0" x2="1" y1="0" y2="0"><stop offset="0" stop-color="#ff5262"/><stop offset="1" stop-color="#ff7680"/></linearGradient>
<rect x="131.00" y="724.60" width="38.30" height="11.10" fill="url(#Bg1)"/>
<linearGradient id="Bg2" x1="0" x2="1" y1="0" y2="0"><stop offset="0" stop-color="#f8b2de"/><stop offset="1" stop-color="#f6bce6"/></linearGradient>
<rect x="169.00" y="724.60" width="77.30" height="11.10" fill="url(#Bg2)"/>
<linearGradient id="Bg3" x1="0" x2="1" y1="0" y2="0"><stop offset="0" stop-color="#cacaf6"/><stop offset="1" stop-color="#b4b4f0"/></linearGradient>
<rect x="246.00" y="724.60" width="64.30" height="11.10" fill="url(#Bg3)"/>
<linearGradient id="Bg4" x1="0" x2="1" y1="0" y2="0"><stop offset="0" stop-color="#7a78f2"/><stop offset="1" stop-color="#6a64f0"/></linearGradient>
<rect x="310.00" y="724.60" width="13.30" height="11.10" fill="url(#Bg4)"/>
<linearGradient id="Bg5" x1="0" x2="1" y1="0" y2="0"><stop offset="0" stop-color="#5c52ee"/><stop offset="1" stop-color="#5044ea"/></linearGradient>
<rect x="323.00" y="724.60" width="41.30" height="11.10" fill="url(#Bg5)"/>
<linearGradient id="Bg6" x1="0" x2="1" y1="0" y2="0"><stop offset="0" stop-color="#3000d4"/><stop offset="1" stop-color="#2800c8"/></linearGradient>
<rect x="364.00" y="724.60" width="11.80" height="11.10" fill="url(#Bg6)"/>
<path d="M64.1,780.5 L64.1,759.5 L64.4,760.9 L67.3,766.4 L70.9,768.9 L74.5,770.7 L81.8,772.5 L89.1,773.6 L100,774.7 L112.7,775.8 L141.8,777.6 L164,779.4 L164,780.5 Z" fill="#c0c0c0"/>
<path d="M244,780.5 L244,780.9 L244,781.2 L300,781.8 L327.3,784.5 L354.5,787.3 L367.3,789 L372.7,792.7 L374.9,799 L376,824.5 L376.7,824.5 L376.7,780.5 Z" fill="#c0c0c0"/>
<line x1="194.80" y1="735.70" x2="194.80" y2="830.50" stroke="#999" stroke-width="0.8" stroke-dasharray="2,2"/>
<text x="164" y="786" font-size="7.4" fill="#333" text-anchor="start" textLength="61" lengthAdjust="spacingAndGlyphs" style='font-family:"Liberation Sans", sans-serif'>Zero cross at 9299</text>
<text x="64.7" y="744.5" font-size="7.5" fill="#ff3030" text-anchor="start" textLength="120.8" lengthAdjust="spacingAndGlyphs" style='font-family:"Liberation Sans", sans-serif'>'CRB_NPC' (positively correlated)</text>
<text x="227.7" y="826.4" font-size="7.5" fill="#4848ff" text-anchor="start" textLength="129.60000000000002" lengthAdjust="spacingAndGlyphs" style='font-family:"Liberation Sans", sans-serif'>'CRB_CTRL' (negatively correlated)</text>
<path d="M63.6,646 L64,633 L65,619 L67,601 L68,596 L69.6,599 L71,595 L73,581 L75,573 L77,566 L79,561 L81,559.4 L84,559.4 L87,562 L90,565 L92,562 L94,564.6 L96,557 L98,550 L102,545 L105,544.6 L110,548.6 L116,547 L120,547 L124,545 L129,544 L132,546.6 L136,545.4 L140,546 L144,547 L148,550 L154,553 L160,556 L165,560.2 L177.7,569.1 L190.4,580.5 L203.2,594.5 L215.9,607.3 L228.6,618.7 L241.3,630.2 L254,641.6 L261.7,648 L271.9,655.6 L282,663.2 L289.7,667.6 L294.8,668.3 L299.9,667 L302.7,666.4 L307.3,669 L311,671 L313.6,668.2 L316.4,663.6 L319,659 L324.5,655.5 L329,659 L332.7,661 L336.4,663.6 L341,667 L344.5,667.3 L349,665.5 L354.5,661.8 L358.2,658.2 L361,654.5 L365.5,658.2 L370,662.7 L372.7,657.3 L374.5,652.7 L376,646.4" fill="none" stroke="#00f000" stroke-width="3.3" stroke-linejoin="round" stroke-linecap="round"/>
<rect x="63.8" y="537.7" width="328.2" height="292.79999999999995" fill="none" stroke="#bfbfbf" stroke-width="1"/>
<line x1="63.80" y1="537.70" x2="63.80" y2="830.50" stroke="#a0a0a0" stroke-width="1"/>
<line x1="61.30" y1="542.80" x2="63.80" y2="542.80" stroke="#999" stroke-width="1"/>
<text x="59" y="546.6039999999999" font-size="8.9" fill="#8a8a8a" text-anchor="end" style='font-family:"Liberation Sans", sans-serif'>0.35</text>
<line x1="61.30" y1="557.60" x2="63.80" y2="557.60" stroke="#999" stroke-width="1"/>
<text x="59" y="561.404" font-size="8.9" fill="#8a8a8a" text-anchor="end" style='font-family:"Liberation Sans", sans-serif'>0.30</text>
<line x1="61.30" y1="572.40" x2="63.80" y2="572.40" stroke="#999" stroke-width="1"/>
<text x="59" y="576.204" font-size="8.9" fill="#8a8a8a" text-anchor="end" style='font-family:"Liberation Sans", sans-serif'>0.25</text>
<line x1="61.30" y1="587.20" x2="63.80" y2="587.20" stroke="#999" stroke-width="1"/>
<text x="59" y="591.0039999999999" font-size="8.9" fill="#8a8a8a" text-anchor="end" style='font-family:"Liberation Sans", sans-serif'>0.20</text>
<line x1="61.30" y1="602.00" x2="63.80" y2="602.00" stroke="#999" stroke-width="1"/>
<text x="59" y="605.804" font-size="8.9" fill="#8a8a8a" text-anchor="end" style='font-family:"Liberation Sans", sans-serif'>0.15</text>
<line x1="61.30" y1="616.80" x2="63.80" y2="616.80" stroke="#999" stroke-width="1"/>
<text x="59" y="620.6039999999999" font-size="8.9" fill="#8a8a8a" text-anchor="end" style='font-family:"Liberation Sans", sans-serif'>0.10</text>
<line x1="61.30" y1="631.60" x2="63.80" y2="631.60" stroke="#999" stroke-width="1"/>
<text x="59" y="635.404" font-size="8.9" fill="#8a8a8a" text-anchor="end" style='font-family:"Liberation Sans", sans-serif'>0.05</text>
<line x1="61.30" y1="646.40" x2="63.80" y2="646.40" stroke="#999" stroke-width="1"/>
<text x="59" y="650.204" font-size="8.9" fill="#8a8a8a" text-anchor="end" style='font-family:"Liberation Sans", sans-serif'>0.00</text>
<line x1="61.30" y1="661.20" x2="63.80" y2="661.20" stroke="#999" stroke-width="1"/>
<text x="59" y="665.0039999999999" font-size="8.9" fill="#8a8a8a" text-anchor="end" style='font-family:"Liberation Sans", sans-serif'>-0.05</text>
<line x1="61.30" y1="676.00" x2="63.80" y2="676.00" stroke="#999" stroke-width="1"/>
<text x="59" y="679.804" font-size="8.9" fill="#8a8a8a" text-anchor="end" style='font-family:"Liberation Sans", sans-serif'>-0.10</text>
<line x1="61.30" y1="757.50" x2="63.80" y2="757.50" stroke="#c4c4c4" stroke-width="1"/>
<text x="58.5" y="761.5440000000001" font-size="7.9" fill="#3a3a3a" text-anchor="end" style='font-family:"Liberation Sans", sans-serif'>2</text>
<line x1="61.30" y1="780.50" x2="63.80" y2="780.50" stroke="#c4c4c4" stroke-width="1"/>
<text x="58.5" y="784.5440000000001" font-size="7.9" fill="#3a3a3a" text-anchor="end" style='font-family:"Liberation Sans", sans-serif'>0</text>
<line x1="61.30" y1="803.50" x2="63.80" y2="803.50" stroke="#c4c4c4" stroke-width="1"/>
<text x="58.5" y="807.5440000000001" font-size="7.9" fill="#3a3a3a" text-anchor="end" style='font-family:"Liberation Sans", sans-serif'>-2</text>
<line x1="61.30" y1="826.50" x2="63.80" y2="826.50" stroke="#c4c4c4" stroke-width="1"/>
<text x="58.5" y="830.5440000000001" font-size="7.9" fill="#3a3a3a" text-anchor="end" style='font-family:"Liberation Sans", sans-serif'>-4</text>
<line x1="64.20" y1="830.50" x2="64.20" y2="833.00" stroke="#999" stroke-width="1"/>
<text x="64.2" y="842.6" font-size="8.2" fill="#333" text-anchor="middle" style='font-family:"Liberation Sans", sans-serif'>0</text>
<line x1="134.70" y1="830.50" x2="134.70" y2="833.00" stroke="#999" stroke-width="1"/>
<text x="134.7" y="842.6" font-size="8.2" fill="#333" text-anchor="middle" style='font-family:"Liberation Sans", sans-serif'>5,000</text>
<line x1="205.20" y1="830.50" x2="205.20" y2="833.00" stroke="#999" stroke-width="1"/>
<text x="205.2" y="842.6" font-size="8.2" fill="#333" text-anchor="middle" style='font-family:"Liberation Sans", sans-serif'>10,000</text>
<line x1="275.70" y1="830.50" x2="275.70" y2="833.00" stroke="#999" stroke-width="1"/>
<text x="275.7" y="842.6" font-size="8.2" fill="#333" text-anchor="middle" style='font-family:"Liberation Sans", sans-serif'>15,000</text>
<line x1="346.20" y1="830.50" x2="346.20" y2="833.00" stroke="#999" stroke-width="1"/>
<text x="346.2" y="842.6" font-size="8.2" fill="#333" text-anchor="middle" style='font-family:"Liberation Sans", sans-serif'>20,000</text>
<text x="175.8" y="855.9" font-size="9.6" fill="#333" text-anchor="start" textLength="104.30000000000001" lengthAdjust="spacingAndGlyphs" style='font-family:"Liberation Sans", sans-serif'>Rank in Ordered Dataset</text>
<text x="0" y="0" transform="translate(30.17,608.1) rotate(-90)" font-size="10.2" fill="#333" text-anchor="middle" textLength="119.2" lengthAdjust="spacingAndGlyphs" style='font-family:"Liberation Sans", sans-serif'>Enrichment score (ES)</text>
<text x="0" y="0" transform="translate(46.019999999999996,783.2) rotate(-90)" font-size="9.2" fill="#333" text-anchor="middle" textLength="143.6" lengthAdjust="spacingAndGlyphs" style='font-family:"Liberation Sans", sans-serif'>Ranked list metric (Signal2Noise)</text>
<text x="258.7" y="553.3" font-size="12.7" fill="#000" text-anchor="start" font-weight="bold" stroke="#000" stroke-width="0.25" textLength="62.2" lengthAdjust="spacingAndGlyphs" style='font-family:"Liberation Sans", sans-serif'>ES: 0.349</text>
<text x="258.7" y="567.5" font-size="12.7" fill="#000" text-anchor="start" font-weight="bold" stroke="#000" stroke-width="0.25" textLength="72.3" lengthAdjust="spacingAndGlyphs" style='font-family:"Liberation Sans", sans-serif'>NES: 1.245</text>
<text x="258.7" y="581.5" font-size="12.7" fill="#000" text-anchor="start" font-weight="bold" stroke="#000" stroke-width="0.25" textLength="85.8" lengthAdjust="spacingAndGlyphs" style='font-family:"Liberation Sans", sans-serif'>FDR-q: 0.184</text>
<rect x="72" y="864.6" width="265.8" height="17.199999999999932" fill="none" stroke="#333" stroke-width="1"/>
<line x1="74.20" y1="873.30" x2="85.40" y2="873.30" stroke="#00e000" stroke-width="2.5"/>
<text x="88.7" y="876.3" font-size="9.4" fill="#333" text-anchor="start" textLength="75.49999999999999" lengthAdjust="spacingAndGlyphs" style='font-family:"Liberation Sans", sans-serif'>Enrichment profile</text>
<line x1="170.60" y1="873.30" x2="180.80" y2="873.30" stroke="#555" stroke-width="1"/>
<text x="184.6" y="876.3" font-size="9.4" fill="#333" text-anchor="start" textLength="15.300000000000011" lengthAdjust="spacingAndGlyphs" style='font-family:"Liberation Sans", sans-serif'>Hits</text>
<line x1="206.40" y1="869.00" x2="217.80" y2="869.00" stroke="#e2e2e2" stroke-width="1"/>
<line x1="224.20" y1="873.30" x2="234.40" y2="873.30" stroke="#cfcfcf" stroke-width="1"/>
<text x="238.7" y="876.3" font-size="9.4" fill="#333" text-anchor="start" textLength="95.40000000000003" lengthAdjust="spacingAndGlyphs" style='font-family:"Liberation Sans", sans-serif'>Ranking metric scores</text>
<rect x="429.70" y="62.60" width="6.28" height="62.70" fill="#c4c4c4"/>
<rect x="429.70" y="125.30" width="6.28" height="13.40" fill="#fff"/>
<rect x="435.98" y="62.60" width="6.28" height="62.70" fill="#c4c4c4"/>
<rect x="435.98" y="125.30" width="6.28" height="13.40" fill="#fff"/>
<rect x="442.27" y="62.60" width="6.28" height="62.70" fill="#c4c4c4"/>
<rect x="442.27" y="125.30" width="6.28" height="13.40" fill="#fff"/>
<rect x="448.55" y="62.60" width="6.28" height="62.70" fill="#ffc400"/>
<rect x="448.55" y="125.30" width="6.28" height="13.40" fill="#fff"/>
<rect x="454.83" y="62.60" width="6.28" height="62.70" fill="#ffc400"/>
<rect x="454.83" y="125.30" width="6.28" height="13.40" fill="#fff"/>
<rect x="461.12" y="62.60" width="6.28" height="62.70" fill="#ffc400"/>
<rect x="461.12" y="125.30" width="6.28" height="13.40" fill="#fff"/>
<text x="0" y="0" transform="translate(434.34,124.5) rotate(-90)" font-size="4.6" fill="#2a2a2a" textLength="41.7" lengthAdjust="spacingAndGlyphs" style='font-family:"Liberation Mono", monospace'>cortex_npc_1</text>
<text x="0" y="0" transform="translate(440.62,124.5) rotate(-90)" font-size="4.6" fill="#2a2a2a" textLength="41.7" lengthAdjust="spacingAndGlyphs" style='font-family:"Liberation Mono", monospace'>cortex_npc_2</text>
<text x="0" y="0" transform="translate(446.91,124.5) rotate(-90)" font-size="4.6" fill="#2a2a2a" textLength="41.7" lengthAdjust="spacingAndGlyphs" style='font-family:"Liberation Mono", monospace'>cortex_npc_3</text>
<text x="0" y="0" transform="translate(453.19,124.5) rotate(-90)" font-size="4.6" fill="#2a2a2a" textLength="57.3" lengthAdjust="spacingAndGlyphs" style='font-family:"Liberation Mono", monospace'>cerebellum_npc_1</text>
<text x="0" y="0" transform="translate(459.47,124.5) rotate(-90)" font-size="4.6" fill="#2a2a2a" textLength="57.3" lengthAdjust="spacingAndGlyphs" style='font-family:"Liberation Mono", monospace'>cerebellum_npc_2</text>
<text x="0" y="0" transform="translate(465.76,124.5) rotate(-90)" font-size="4.6" fill="#2a2a2a" textLength="57.3" lengthAdjust="spacingAndGlyphs" style='font-family:"Liberation Mono", monospace'>cerebellum_npc_3</text>
<line x1="429.70" y1="62.60" x2="429.70" y2="138.70" stroke="#8a8a8a" stroke-width="0.9"/>
<line x1="435.98" y1="62.60" x2="435.98" y2="138.70" stroke="#8a8a8a" stroke-width="0.9"/>
<line x1="442.27" y1="62.60" x2="442.27" y2="138.70" stroke="#8a8a8a" stroke-width="0.9"/>
<line x1="448.55" y1="62.60" x2="448.55" y2="138.70" stroke="#8a8a8a" stroke-width="0.9"/>
<line x1="454.83" y1="62.60" x2="454.83" y2="138.70" stroke="#8a8a8a" stroke-width="0.9"/>
<line x1="461.12" y1="62.60" x2="461.12" y2="138.70" stroke="#8a8a8a" stroke-width="0.9"/>
<line x1="467.40" y1="62.60" x2="467.40" y2="138.70" stroke="#8a8a8a" stroke-width="0.9"/>
<rect x="468.00" y="72.50" width="0.90" height="2.20" fill="#777"/>
<rect x="468.00" y="86.50" width="0.90" height="2.20" fill="#777"/>
<rect x="429.70" y="138.70" width="6.28" height="6.22" fill="#ff4c4c"/>
<rect x="435.98" y="138.70" width="6.28" height="6.22" fill="#ff0000"/>
<rect x="442.27" y="138.70" width="6.28" height="6.22" fill="#ff0000"/>
<rect x="448.55" y="138.70" width="6.28" height="6.22" fill="#4a00b8"/>
<rect x="454.83" y="138.70" width="6.28" height="6.22" fill="#4a00b8"/>
<rect x="461.12" y="138.70" width="6.28" height="6.22" fill="#4a00b8"/>
<rect x="429.70" y="144.92" width="6.28" height="6.22" fill="#ff0000"/>
<rect x="435.98" y="144.92" width="6.28" height="6.22" fill="#ff4c4c"/>
<rect x="442.27" y="144.92" width="6.28" height="6.22" fill="#ff7a80"/>
<rect x="448.55" y="144.92" width="6.28" height="6.22" fill="#4a00b8"/>
<rect x="454.83" y="144.92" width="6.28" height="6.22" fill="#4a00b8"/>
<rect x="461.12" y="144.92" width="6.28" height="6.22" fill="#4a00b8"/>
<rect x="429.70" y="151.14" width="6.28" height="6.22" fill="#ff7a80"/>
<rect x="435.98" y="151.14" width="6.28" height="6.22" fill="#ff4c4c"/>
<rect x="442.27" y="151.14" width="6.28" height="6.22" fill="#ff0000"/>
<rect x="448.55" y="151.14" width="6.28" height="6.22" fill="#4a00b8"/>
<rect x="454.83" y="151.14" width="6.28" height="6.22" fill="#2200dd"/>
<rect x="461.12" y="151.14" width="6.28" height="6.22" fill="#8080ff"/>
<rect x="429.70" y="157.36" width="6.28" height="6.22" fill="#ff0000"/>
<rect x="435.98" y="157.36" width="6.28" height="6.22" fill="#ff7a80"/>
<rect x="442.27" y="157.36" width="6.28" height="6.22" fill="#ff4c4c"/>
<rect x="448.55" y="157.36" width="6.28" height="6.22" fill="#4a00b8"/>
<rect x="454.83" y="157.36" width="6.28" height="6.22" fill="#2200dd"/>
<rect x="461.12" y="157.36" width="6.28" height="6.22" fill="#8080ff"/>
<rect x="429.70" y="163.58" width="6.28" height="6.22" fill="#ff7a80"/>
<rect x="435.98" y="163.58" width="6.28" height="6.22" fill="#ff7a80"/>
<rect x="442.27" y="163.58" width="6.28" height="6.22" fill="#ff0000"/>
<rect x="448.55" y="163.58" width="6.28" height="6.22" fill="#2200dd"/>
<rect x="454.83" y="163.58" width="6.28" height="6.22" fill="#4a00b8"/>
<rect x="461.12" y="163.58" width="6.28" height="6.22" fill="#2200dd"/>
<rect x="429.70" y="169.80" width="6.28" height="6.22" fill="#ff0000"/>
<rect x="435.98" y="169.80" width="6.28" height="6.22" fill="#ff4c4c"/>
<rect x="442.27" y="169.80" width="6.28" height="6.22" fill="#ff0000"/>
<rect x="448.55" y="169.80" width="6.28" height="6.22" fill="#4a00b8"/>
<rect x="454.83" y="169.80" width="6.28" height="6.22" fill="#8080ff"/>
<rect x="461.12" y="169.80" width="6.28" height="6.22" fill="#4a00b8"/>
<rect x="429.70" y="176.02" width="6.28" height="6.22" fill="#ff0000"/>
<rect x="435.98" y="176.02" width="6.28" height="6.22" fill="#ff7a80"/>
<rect x="442.27" y="176.02" width="6.28" height="6.22" fill="#ffc6e8"/>
<rect x="448.55" y="176.02" width="6.28" height="6.22" fill="#4a00b8"/>
<rect x="454.83" y="176.02" width="6.28" height="6.22" fill="#4a00b8"/>
<rect x="461.12" y="176.02" width="6.28" height="6.22" fill="#4a00b8"/>
<rect x="429.70" y="182.24" width="6.28" height="6.22" fill="#ff7a80"/>
<rect x="435.98" y="182.24" width="6.28" height="6.22" fill="#ff0000"/>
<rect x="442.27" y="182.24" width="6.28" height="6.22" fill="#ff4c4c"/>
<rect x="448.55" y="182.24" width="6.28" height="6.22" fill="#4a00b8"/>
<rect x="454.83" y="182.24" width="6.28" height="6.22" fill="#4a00b8"/>
<rect x="461.12" y="182.24" width="6.28" height="6.22" fill="#8080ff"/>
<rect x="429.70" y="188.46" width="6.28" height="6.22" fill="#ff0000"/>
<rect x="435.98" y="188.46" width="6.28" height="6.22" fill="#ff0000"/>
<rect x="442.27" y="188.46" width="6.28" height="6.22" fill="#ff0000"/>
<rect x="448.55" y="188.46" width="6.28" height="6.22" fill="#8080ff"/>
<rect x="454.83" y="188.46" width="6.28" height="6.22" fill="#4a00b8"/>
<rect x="461.12" y="188.46" width="6.28" height="6.22" fill="#2200dd"/>
<rect x="429.70" y="194.68" width="6.28" height="6.22" fill="#ff0000"/>
<rect x="435.98" y="194.68" width="6.28" height="6.22" fill="#ff4c4c"/>
<rect x="442.27" y="194.68" width="6.28" height="6.22" fill="#ff7a80"/>
<rect x="448.55" y="194.68" width="6.28" height="6.22" fill="#2200dd"/>
<rect x="454.83" y="194.68" width="6.28" height="6.22" fill="#8080ff"/>
<rect x="461.12" y="194.68" width="6.28" height="6.22" fill="#4a00b8"/>
<rect x="429.70" y="200.90" width="6.28" height="6.22" fill="#ffc6e8"/>
<rect x="435.98" y="200.90" width="6.28" height="6.22" fill="#ff0000"/>
<rect x="442.27" y="200.90" width="6.28" height="6.22" fill="#ff4c4c"/>
<rect x="448.55" y="200.90" width="6.28" height="6.22" fill="#4a00b8"/>
<rect x="454.83" y="200.90" width="6.28" height="6.22" fill="#4a00b8"/>
<rect x="461.12" y="200.90" width="6.28" height="6.22" fill="#4a00b8"/>
<rect x="429.70" y="207.12" width="6.28" height="6.22" fill="#ff0000"/>
<rect x="435.98" y="207.12" width="6.28" height="6.22" fill="#ff7a80"/>
<rect x="442.27" y="207.12" width="6.28" height="6.22" fill="#ccccff"/>
<rect x="448.55" y="207.12" width="6.28" height="6.22" fill="#4a00b8"/>
<rect x="454.83" y="207.12" width="6.28" height="6.22" fill="#8080ff"/>
<rect x="461.12" y="207.12" width="6.28" height="6.22" fill="#2200dd"/>
<rect x="429.70" y="213.34" width="6.28" height="6.22" fill="#ff0000"/>
<rect x="435.98" y="213.34" width="6.28" height="6.22" fill="#ffc6e8"/>
<rect x="442.27" y="213.34" width="6.28" height="6.22" fill="#ff7a80"/>
<rect x="448.55" y="213.34" width="6.28" height="6.22" fill="#4a00b8"/>
<rect x="454.83" y="213.34" width="6.28" height="6.22" fill="#8080ff"/>
<rect x="461.12" y="213.34" width="6.28" height="6.22" fill="#4a00b8"/>
<rect x="429.70" y="219.56" width="6.28" height="6.22" fill="#ff0000"/>
<rect x="435.98" y="219.56" width="6.28" height="6.22" fill="#ff4c4c"/>
<rect x="442.27" y="219.56" width="6.28" height="6.22" fill="#ffc6e8"/>
<rect x="448.55" y="219.56" width="6.28" height="6.22" fill="#2200dd"/>
<rect x="454.83" y="219.56" width="6.28" height="6.22" fill="#ccccff"/>
<rect x="461.12" y="219.56" width="6.28" height="6.22" fill="#4a00b8"/>
<rect x="429.70" y="225.78" width="6.28" height="6.22" fill="#ff7a80"/>
<rect x="435.98" y="225.78" width="6.28" height="6.22" fill="#ff7a80"/>
<rect x="442.27" y="225.78" width="6.28" height="6.22" fill="#ff0000"/>
<rect x="448.55" y="225.78" width="6.28" height="6.22" fill="#8080ff"/>
<rect x="454.83" y="225.78" width="6.28" height="6.22" fill="#8080ff"/>
<rect x="461.12" y="225.78" width="6.28" height="6.22" fill="#4a00b8"/>
<rect x="429.70" y="232.00" width="6.28" height="6.22" fill="#ff7a80"/>
<rect x="435.98" y="232.00" width="6.28" height="6.22" fill="#ff4c4c"/>
<rect x="442.27" y="232.00" width="6.28" height="6.22" fill="#ff0000"/>
<rect x="448.55" y="232.00" width="6.28" height="6.22" fill="#4a00b8"/>
<rect x="454.83" y="232.00" width="6.28" height="6.22" fill="#2200dd"/>
<rect x="461.12" y="232.00" width="6.28" height="6.22" fill="#2200dd"/>
<rect x="429.70" y="238.22" width="6.28" height="6.22" fill="#ff0000"/>
<rect x="435.98" y="238.22" width="6.28" height="6.22" fill="#ff0000"/>
<rect x="442.27" y="238.22" width="6.28" height="6.22" fill="#ff4c4c"/>
<rect x="448.55" y="238.22" width="6.28" height="6.22" fill="#2200dd"/>
<rect x="454.83" y="238.22" width="6.28" height="6.22" fill="#8080ff"/>
<rect x="461.12" y="238.22" width="6.28" height="6.22" fill="#4a00b8"/>
<rect x="429.70" y="244.44" width="6.28" height="6.22" fill="#ff0000"/>
<rect x="435.98" y="244.44" width="6.28" height="6.22" fill="#ffc6e8"/>
<rect x="442.27" y="244.44" width="6.28" height="6.22" fill="#ff7a80"/>
<rect x="448.55" y="244.44" width="6.28" height="6.22" fill="#4a00b8"/>
<rect x="454.83" y="244.44" width="6.28" height="6.22" fill="#2200dd"/>
<rect x="461.12" y="244.44" width="6.28" height="6.22" fill="#8080ff"/>
<rect x="429.70" y="250.66" width="6.28" height="6.22" fill="#ff4c4c"/>
<rect x="435.98" y="250.66" width="6.28" height="6.22" fill="#ff4c4c"/>
<rect x="442.27" y="250.66" width="6.28" height="6.22" fill="#ff0000"/>
<rect x="448.55" y="250.66" width="6.28" height="6.22" fill="#4a00b8"/>
<rect x="454.83" y="250.66" width="6.28" height="6.22" fill="#2200dd"/>
<rect x="461.12" y="250.66" width="6.28" height="6.22" fill="#2200dd"/>
<rect x="429.70" y="256.88" width="6.28" height="6.22" fill="#ff0000"/>
<rect x="435.98" y="256.88" width="6.28" height="6.22" fill="#ff0000"/>
<rect x="442.27" y="256.88" width="6.28" height="6.22" fill="#ff0000"/>
<rect x="448.55" y="256.88" width="6.28" height="6.22" fill="#2200dd"/>
<rect x="454.83" y="256.88" width="6.28" height="6.22" fill="#ccccff"/>
<rect x="461.12" y="256.88" width="6.28" height="6.22" fill="#4a00b8"/>
<rect x="429.70" y="263.10" width="6.28" height="6.22" fill="#ff0000"/>
<rect x="435.98" y="263.10" width="6.28" height="6.22" fill="#ccccff"/>
<rect x="442.27" y="263.10" width="6.28" height="6.22" fill="#ff4c4c"/>
<rect x="448.55" y="263.10" width="6.28" height="6.22" fill="#8080ff"/>
<rect x="454.83" y="263.10" width="6.28" height="6.22" fill="#4a00b8"/>
<rect x="461.12" y="263.10" width="6.28" height="6.22" fill="#8080ff"/>
<rect x="429.70" y="269.32" width="6.28" height="6.22" fill="#ff0000"/>
<rect x="435.98" y="269.32" width="6.28" height="6.22" fill="#ffc6e8"/>
<rect x="442.27" y="269.32" width="6.28" height="6.22" fill="#ffc6e8"/>
<rect x="448.55" y="269.32" width="6.28" height="6.22" fill="#4a00b8"/>
<rect x="454.83" y="269.32" width="6.28" height="6.22" fill="#8080ff"/>
<rect x="461.12" y="269.32" width="6.28" height="6.22" fill="#ccccff"/>
<rect x="429.70" y="275.54" width="6.28" height="6.22" fill="#ff0000"/>
<rect x="435.98" y="275.54" width="6.28" height="6.22" fill="#ff0000"/>
<rect x="442.27" y="275.54" width="6.28" height="6.22" fill="#ff0000"/>
<rect x="448.55" y="275.54" width="6.28" height="6.22" fill="#4a00b8"/>
<rect x="454.83" y="275.54" width="6.28" height="6.22" fill="#ccccff"/>
<rect x="461.12" y="275.54" width="6.28" height="6.22" fill="#2200dd"/>
<rect x="429.70" y="281.76" width="6.28" height="6.22" fill="#ff7a80"/>
<rect x="435.98" y="281.76" width="6.28" height="6.22" fill="#ff0000"/>
<rect x="442.27" y="281.76" width="6.28" height="6.22" fill="#ff4c4c"/>
<rect x="448.55" y="281.76" width="6.28" height="6.22" fill="#ffc6e8"/>
<rect x="454.83" y="281.76" width="6.28" height="6.22" fill="#4a00b8"/>
<rect x="461.12" y="281.76" width="6.28" height="6.22" fill="#4a00b8"/>
<rect x="429.70" y="287.98" width="6.28" height="6.22" fill="#ccccff"/>
<rect x="435.98" y="287.98" width="6.28" height="6.22" fill="#ff4c4c"/>
<rect x="442.27" y="287.98" width="6.28" height="6.22" fill="#ff0000"/>
<rect x="448.55" y="287.98" width="6.28" height="6.22" fill="#4a00b8"/>
<rect x="454.83" y="287.98" width="6.28" height="6.22" fill="#4a00b8"/>
<rect x="461.12" y="287.98" width="6.28" height="6.22" fill="#4a00b8"/>
<rect x="429.70" y="294.20" width="6.28" height="6.22" fill="#ff7a80"/>
<rect x="435.98" y="294.20" width="6.28" height="6.22" fill="#ff0000"/>
<rect x="442.27" y="294.20" width="6.28" height="6.22" fill="#8080ff"/>
<rect x="448.55" y="294.20" width="6.28" height="6.22" fill="#4a00b8"/>
<rect x="454.83" y="294.20" width="6.28" height="6.22" fill="#4a00b8"/>
<rect x="461.12" y="294.20" width="6.28" height="6.22" fill="#4a00b8"/>
<rect x="429.70" y="300.42" width="6.28" height="6.22" fill="#ff4c4c"/>
<rect x="435.98" y="300.42" width="6.28" height="6.22" fill="#ff0000"/>
<rect x="442.27" y="300.42" width="6.28" height="6.22" fill="#ff4c4c"/>
<rect x="448.55" y="300.42" width="6.28" height="6.22" fill="#4a00b8"/>
<rect x="454.83" y="300.42" width="6.28" height="6.22" fill="#8080ff"/>
<rect x="461.12" y="300.42" width="6.28" height="6.22" fill="#2200dd"/>
<rect x="429.70" y="306.64" width="6.28" height="6.22" fill="#ff7a80"/>
<rect x="435.98" y="306.64" width="6.28" height="6.22" fill="#ff0000"/>
<rect x="442.27" y="306.64" width="6.28" height="6.22" fill="#8080ff"/>
<rect x="448.55" y="306.64" width="6.28" height="6.22" fill="#4a00b8"/>
<rect x="454.83" y="306.64" width="6.28" height="6.22" fill="#ccccff"/>
<rect x="461.12" y="306.64" width="6.28" height="6.22" fill="#2200dd"/>
<rect x="429.70" y="312.86" width="6.28" height="6.22" fill="#4a00b8"/>
<rect x="435.98" y="312.86" width="6.28" height="6.22" fill="#ff0000"/>
<rect x="442.27" y="312.86" width="6.28" height="6.22" fill="#ff7a80"/>
<rect x="448.55" y="312.86" width="6.28" height="6.22" fill="#4a00b8"/>
<rect x="454.83" y="312.86" width="6.28" height="6.22" fill="#4a00b8"/>
<rect x="461.12" y="312.86" width="6.28" height="6.22" fill="#4a00b8"/>
<rect x="429.70" y="319.08" width="6.28" height="6.22" fill="#ff0000"/>
<rect x="435.98" y="319.08" width="6.28" height="6.22" fill="#ff0000"/>
<rect x="442.27" y="319.08" width="6.28" height="6.22" fill="#ff4c4c"/>
<rect x="448.55" y="319.08" width="6.28" height="6.22" fill="#4a00b8"/>
<rect x="454.83" y="319.08" width="6.28" height="6.22" fill="#2200dd"/>
<rect x="461.12" y="319.08" width="6.28" height="6.22" fill="#2200dd"/>
<rect x="429.70" y="325.30" width="6.28" height="6.22" fill="#ff7a80"/>
<rect x="435.98" y="325.30" width="6.28" height="6.22" fill="#ff0000"/>
<rect x="442.27" y="325.30" width="6.28" height="6.22" fill="#ff7a80"/>
<rect x="448.55" y="325.30" width="6.28" height="6.22" fill="#4a00b8"/>
<rect x="454.83" y="325.30" width="6.28" height="6.22" fill="#8080ff"/>
<rect x="461.12" y="325.30" width="6.28" height="6.22" fill="#4a00b8"/>
<rect x="429.70" y="331.52" width="6.28" height="6.22" fill="#ff0000"/>
<rect x="435.98" y="331.52" width="6.28" height="6.22" fill="#8080ff"/>
<rect x="442.27" y="331.52" width="6.28" height="6.22" fill="#ff4c4c"/>
<rect x="448.55" y="331.52" width="6.28" height="6.22" fill="#4a00b8"/>
<rect x="454.83" y="331.52" width="6.28" height="6.22" fill="#ccccff"/>
<rect x="461.12" y="331.52" width="6.28" height="6.22" fill="#4a00b8"/>
<rect x="429.70" y="337.74" width="6.28" height="6.22" fill="#ffc6e8"/>
<rect x="435.98" y="337.74" width="6.28" height="6.22" fill="#ff0000"/>
<rect x="442.27" y="337.74" width="6.28" height="6.22" fill="#ccccff"/>
<rect x="448.55" y="337.74" width="6.28" height="6.22" fill="#4a00b8"/>
<rect x="454.83" y="337.74" width="6.28" height="6.22" fill="#4a00b8"/>
<rect x="461.12" y="337.74" width="6.28" height="6.22" fill="#4a00b8"/>
<rect x="429.70" y="343.96" width="6.28" height="6.22" fill="#ff4c4c"/>
<rect x="435.98" y="343.96" width="6.28" height="6.22" fill="#ff0000"/>
<rect x="442.27" y="343.96" width="6.28" height="6.22" fill="#8080ff"/>
<rect x="448.55" y="343.96" width="6.28" height="6.22" fill="#8080ff"/>
<rect x="454.83" y="343.96" width="6.28" height="6.22" fill="#2200dd"/>
<rect x="461.12" y="343.96" width="6.28" height="6.22" fill="#4a00b8"/>
<rect x="429.70" y="350.18" width="6.28" height="6.22" fill="#ff0000"/>
<rect x="435.98" y="350.18" width="6.28" height="6.22" fill="#ccccff"/>
<rect x="442.27" y="350.18" width="6.28" height="6.22" fill="#ff4c4c"/>
<rect x="448.55" y="350.18" width="6.28" height="6.22" fill="#8080ff"/>
<rect x="454.83" y="350.18" width="6.28" height="6.22" fill="#ffc6e8"/>
<rect x="461.12" y="350.18" width="6.28" height="6.22" fill="#4a00b8"/>
<rect x="429.70" y="356.40" width="6.28" height="6.22" fill="#ffc6e8"/>
<rect x="435.98" y="356.40" width="6.28" height="6.22" fill="#ff0000"/>
<rect x="442.27" y="356.40" width="6.28" height="6.22" fill="#ccccff"/>
<rect x="448.55" y="356.40" width="6.28" height="6.22" fill="#4a00b8"/>
<rect x="454.83" y="356.40" width="6.28" height="6.22" fill="#2200dd"/>
<rect x="461.12" y="356.40" width="6.28" height="6.22" fill="#4a00b8"/>
<rect x="429.70" y="362.62" width="6.28" height="6.22" fill="#4a00b8"/>
<rect x="435.98" y="362.62" width="6.28" height="6.22" fill="#ff4c4c"/>
<rect x="442.27" y="362.62" width="6.28" height="6.22" fill="#ff0000"/>
<rect x="448.55" y="362.62" width="6.28" height="6.22" fill="#4a00b8"/>
<rect x="454.83" y="362.62" width="6.28" height="6.22" fill="#4a00b8"/>
<rect x="461.12" y="362.62" width="6.28" height="6.22" fill="#4a00b8"/>
<rect x="429.70" y="368.84" width="6.28" height="6.22" fill="#ccccff"/>
<rect x="435.98" y="368.84" width="6.28" height="6.22" fill="#ff0000"/>
<rect x="442.27" y="368.84" width="6.28" height="6.22" fill="#ccccff"/>
<rect x="448.55" y="368.84" width="6.28" height="6.22" fill="#4a00b8"/>
<rect x="454.83" y="368.84" width="6.28" height="6.22" fill="#2200dd"/>
<rect x="461.12" y="368.84" width="6.28" height="6.22" fill="#8080ff"/>
<line x1="429.70" y1="138.70" x2="467.40" y2="138.70" stroke="#180018" stroke-width="0.75" stroke-opacity="0.8"/>
<line x1="429.70" y1="144.92" x2="467.40" y2="144.92" stroke="#180018" stroke-width="0.75" stroke-opacity="0.8"/>
<line x1="429.70" y1="151.14" x2="467.40" y2="151.14" stroke="#180018" stroke-width="0.75" stroke-opacity="0.8"/>
<line x1="429.70" y1="157.36" x2="467.40" y2="157.36" stroke="#180018" stroke-width="0.75" stroke-opacity="0.8"/>
<line x1="429.70" y1="163.58" x2="467.40" y2="163.58" stroke="#180018" stroke-width="0.75" stroke-opacity="0.8"/>
<line x1="429.70" y1="169.80" x2="467.40" y2="169.80" stroke="#180018" stroke-width="0.75" stroke-opacity="0.8"/>
<line x1="429.70" y1="176.02" x2="467.40" y2="176.02" stroke="#180018" stroke-width="0.75" stroke-opacity="0.8"/>
<line x1="429.70" y1="182.24" x2="467.40" y2="182.24" stroke="#180018" stroke-width="0.75" stroke-opacity="0.8"/>
<line x1="429.70" y1="188.46" x2="467.40" y2="188.46" stroke="#180018" stroke-width="0.75" stroke-opacity="0.8"/>
<line x1="429.70" y1="194.68" x2="467.40" y2="194.68" stroke="#180018" stroke-width="0.75" stroke-opacity="0.8"/>
<line x1="429.70" y1="200.90" x2="467.40" y2="200.90" stroke="#180018" stroke-width="0.75" stroke-opacity="0.8"/>
<line x1="429.70" y1="207.12" x2="467.40" y2="207.12" stroke="#180018" stroke-width="0.75" stroke-opacity="0.8"/>
<line x1="429.70" y1="213.34" x2="467.40" y2="213.34" stroke="#180018" stroke-width="0.75" stroke-opacity="0.8"/>
<line x1="429.70" y1="219.56" x2="467.40" y2="219.56" stroke="#180018" stroke-width="0.75" stroke-opacity="0.8"/>
<line x1="429.70" y1="225.78" x2="467.40" y2="225.78" stroke="#180018" stroke-width="0.75" stroke-opacity="0.8"/>
<line x1="429.70" y1="232.00" x2="467.40" y2="232.00" stroke="#180018" stroke-width="0.75" stroke-opacity="0.8"/>
<line x1="429.70" y1="238.22" x2="467.40" y2="238.22" stroke="#180018" stroke-width="0.75" stroke-opacity="0.8"/>
<line x1="429.70" y1="244.44" x2="467.40" y2="244.44" stroke="#180018" stroke-width="0.75" stroke-opacity="0.8"/>
<line x1="429.70" y1="250.66" x2="467.40" y2="250.66" stroke="#180018" stroke-width="0.75" stroke-opacity="0.8"/>
<line x1="429.70" y1="256.88" x2="467.40" y2="256.88" stroke="#180018" stroke-width="0.75" stroke-opacity="0.8"/>
<line x1="429.70" y1="263.10" x2="467.40" y2="263.10" stroke="#180018" stroke-width="0.75" stroke-opacity="0.8"/>
<line x1="429.70" y1="269.32" x2="467.40" y2="269.32" stroke="#180018" stroke-width="0.75" stroke-opacity="0.8"/>
<line x1="429.70" y1="275.54" x2="467.40" y2="275.54" stroke="#180018" stroke-width="0.75" stroke-opacity="0.8"/>
<line x1="429.70" y1="281.76" x2="467.40" y2="281.76" stroke="#180018" stroke-width="0.75" stroke-opacity="0.8"/>
<line x1="429.70" y1="287.98" x2="467.40" y2="287.98" stroke="#180018" stroke-width="0.75" stroke-opacity="0.8"/>
<line x1="429.70" y1="294.20" x2="467.40" y2="294.20" stroke="#180018" stroke-width="0.75" stroke-opacity="0.8"/>
<line x1="429.70" y1="300.42" x2="467.40" y2="300.42" stroke="#180018" stroke-width="0.75" stroke-opacity="0.8"/>
<line x1="429.70" y1="306.64" x2="467.40" y2="306.64" stroke="#180018" stroke-width="0.75" stroke-opacity="0.8"/>
<line x1="429.70" y1="312.86" x2="467.40" y2="312.86" stroke="#180018" stroke-width="0.75" stroke-opacity="0.8"/>
<line x1="429.70" y1="319.08" x2="467.40" y2="319.08" stroke="#180018" stroke-width="0.75" stroke-opacity="0.8"/>
<line x1="429.70" y1="325.30" x2="467.40" y2="325.30" stroke="#180018" stroke-width="0.75" stroke-opacity="0.8"/>
<line x1="429.70" y1="331.52" x2="467.40" y2="331.52" stroke="#180018" stroke-width="0.75" stroke-opacity="0.8"/>
<line x1="429.70" y1="337.74" x2="467.40" y2="337.74" stroke="#180018" stroke-width="0.75" stroke-opacity="0.8"/>
<line x1="429.70" y1="343.96" x2="467.40" y2="343.96" stroke="#180018" stroke-width="0.75" stroke-opacity="0.8"/>
<line x1="429.70" y1="350.18" x2="467.40" y2="350.18" stroke="#180018" stroke-width="0.75" stroke-opacity="0.8"/>
<line x1="429.70" y1="356.40" x2="467.40" y2="356.40" stroke="#180018" stroke-width="0.75" stroke-opacity="0.8"/>
<line x1="429.70" y1="362.62" x2="467.40" y2="362.62" stroke="#180018" stroke-width="0.75" stroke-opacity="0.8"/>
<line x1="429.70" y1="368.84" x2="467.40" y2="368.84" stroke="#180018" stroke-width="0.75" stroke-opacity="0.8"/>
<line x1="429.70" y1="375.06" x2="467.40" y2="375.06" stroke="#180018" stroke-width="0.75" stroke-opacity="0.8"/>
<line x1="429.70" y1="138.70" x2="429.70" y2="375.06" stroke="#180018" stroke-width="0.75" stroke-opacity="0.8"/>
<line x1="435.98" y1="138.70" x2="435.98" y2="375.06" stroke="#180018" stroke-width="0.75" stroke-opacity="0.8"/>
<line x1="442.27" y1="138.70" x2="442.27" y2="375.06" stroke="#180018" stroke-width="0.75" stroke-opacity="0.8"/>
<line x1="448.55" y1="138.70" x2="448.55" y2="375.06" stroke="#180018" stroke-width="0.75" stroke-opacity="0.8"/>
<line x1="454.83" y1="138.70" x2="454.83" y2="375.06" stroke="#180018" stroke-width="0.75" stroke-opacity="0.8"/>
<line x1="461.12" y1="138.70" x2="461.12" y2="375.06" stroke="#180018" stroke-width="0.75" stroke-opacity="0.8"/>
<line x1="467.40" y1="138.70" x2="467.40" y2="375.06" stroke="#180018" stroke-width="0.75" stroke-opacity="0.8"/>
<text x="472.3" y="133.5" font-size="7.5" fill="#666" text-anchor="start" textLength="45.69999999999999" lengthAdjust="spacingAndGlyphs" style='font-family:"Liberation Mono", monospace'>SampleName</text>
<line x1="467.40" y1="138.30" x2="540.50" y2="138.30" stroke="#9a9a9a" stroke-width="1.3"/>
<line x1="467.40" y1="144.92" x2="540.50" y2="144.92" stroke="#8a8a8a" stroke-width="1.3"/>
<text x="471.79999999999995" y="144.32" font-size="5.7" fill="#4a4a4a" text-anchor="start" style='font-family:"Liberation Mono", monospace' textLength="18.50" lengthAdjust="spacingAndGlyphs">Prk7h</text>
<line x1="467.40" y1="151.14" x2="540.50" y2="151.14" stroke="#8a8a8a" stroke-width="1.3"/>
<text x="471.79999999999995" y="150.54" font-size="5.7" fill="#4a4a4a" text-anchor="start" style='font-family:"Liberation Mono", monospace' textLength="18.50" lengthAdjust="spacingAndGlyphs">Foxp1</text>
<line x1="467.40" y1="157.36" x2="540.50" y2="157.36" stroke="#8a8a8a" stroke-width="1.3"/>
<text x="471.79999999999995" y="156.76" font-size="5.7" fill="#4a4a4a" text-anchor="start" style='font-family:"Liberation Mono", monospace' textLength="18.50" lengthAdjust="spacingAndGlyphs">Trpa1</text>
<line x1="467.40" y1="163.58" x2="540.50" y2="163.58" stroke="#8a8a8a" stroke-width="1.3"/>
<text x="471.79999999999995" y="162.98" font-size="5.7" fill="#4a4a4a" text-anchor="start" style='font-family:"Liberation Mono", monospace' textLength="18.50" lengthAdjust="spacingAndGlyphs">Ptprn</text>
<line x1="467.40" y1="169.80" x2="540.50" y2="169.80" stroke="#8a8a8a" stroke-width="1.3"/>
<text x="471.79999999999995" y="169.2" font-size="5.7" fill="#4a4a4a" text-anchor="start" style='font-family:"Liberation Mono", monospace' textLength="11.10" lengthAdjust="spacingAndGlyphs">Lck</text>
<line x1="467.40" y1="176.02" x2="540.50" y2="176.02" stroke="#8a8a8a" stroke-width="1.3"/>
<text x="471.79999999999995" y="175.42" font-size="5.7" fill="#4a4a4a" text-anchor="start" style='font-family:"Liberation Mono", monospace' textLength="18.50" lengthAdjust="spacingAndGlyphs">Mapk1</text>
<line x1="467.40" y1="182.24" x2="540.50" y2="182.24" stroke="#8a8a8a" stroke-width="1.3"/>
<text x="471.79999999999995" y="181.64" font-size="5.7" fill="#4a4a4a" text-anchor="start" style='font-family:"Liberation Mono", monospace' textLength="18.50" lengthAdjust="spacingAndGlyphs">Trpc6</text>
<line x1="467.40" y1="188.46" x2="540.50" y2="188.46" stroke="#8a8a8a" stroke-width="1.3"/>
<text x="471.79999999999995" y="187.85999999999999" font-size="5.7" fill="#4a4a4a" text-anchor="start" style='font-family:"Liberation Mono", monospace' textLength="14.80" lengthAdjust="spacingAndGlyphs">Nme5</text>
<line x1="467.40" y1="194.68" x2="540.50" y2="194.68" stroke="#8a8a8a" stroke-width="1.3"/>
<text x="471.79999999999995" y="194.07999999999998" font-size="5.7" fill="#4a4a4a" text-anchor="start" style='font-family:"Liberation Mono", monospace' textLength="11.10" lengthAdjust="spacingAndGlyphs">Src</text>
<line x1="467.40" y1="200.90" x2="540.50" y2="200.90" stroke="#8a8a8a" stroke-width="1.3"/>
<text x="471.79999999999995" y="200.29999999999998" font-size="5.7" fill="#4a4a4a" text-anchor="start" style='font-family:"Liberation Mono", monospace' textLength="22.20" lengthAdjust="spacingAndGlyphs">Zfp580</text>
<line x1="467.40" y1="207.12" x2="540.50" y2="207.12" stroke="#8a8a8a" stroke-width="1.3"/>
<text x="471.79999999999995" y="206.52" font-size="5.7" fill="#4a4a4a" text-anchor="start" style='font-family:"Liberation Mono", monospace' textLength="14.80" lengthAdjust="spacingAndGlyphs">Gja1</text>
<line x1="467.40" y1="213.34" x2="540.50" y2="213.34" stroke="#8a8a8a" stroke-width="1.3"/>
<text x="471.79999999999995" y="212.73999999999998" font-size="5.7" fill="#4a4a4a" text-anchor="start" style='font-family:"Liberation Mono", monospace' textLength="25.90" lengthAdjust="spacingAndGlyphs">Cyp11a1</text>
<line x1="467.40" y1="219.56" x2="540.50" y2="219.56" stroke="#8a8a8a" stroke-width="1.3"/>
<text x="471.79999999999995" y="218.96" font-size="5.7" fill="#4a4a4a" text-anchor="start" style='font-family:"Liberation Mono", monospace' textLength="18.50" lengthAdjust="spacingAndGlyphs">Smpd3</text>
<line x1="467.40" y1="225.78" x2="540.50" y2="225.78" stroke="#8a8a8a" stroke-width="1.3"/>
<text x="471.79999999999995" y="225.17999999999998" font-size="5.7" fill="#4a4a4a" text-anchor="start" style='font-family:"Liberation Mono", monospace' textLength="18.50" lengthAdjust="spacingAndGlyphs">Lrrk2</text>
<line x1="467.40" y1="232.00" x2="540.50" y2="232.00" stroke="#8a8a8a" stroke-width="1.3"/>
<text x="471.79999999999995" y="231.4" font-size="5.7" fill="#4a4a4a" text-anchor="start" style='font-family:"Liberation Mono", monospace' textLength="22.20" lengthAdjust="spacingAndGlyphs">Mpv17l</text>
<line x1="467.40" y1="238.22" x2="540.50" y2="238.22" stroke="#8a8a8a" stroke-width="1.3"/>
<text x="471.79999999999995" y="237.61999999999998" font-size="5.7" fill="#4a4a4a" text-anchor="start" style='font-family:"Liberation Mono", monospace' textLength="18.50" lengthAdjust="spacingAndGlyphs">Apex1</text>
<line x1="467.40" y1="244.44" x2="540.50" y2="244.44" stroke="#8a8a8a" stroke-width="1.3"/>
<text x="471.79999999999995" y="243.84" font-size="5.7" fill="#4a4a4a" text-anchor="start" style='font-family:"Liberation Mono", monospace' textLength="18.50" lengthAdjust="spacingAndGlyphs">Prpck</text>
<line x1="467.40" y1="250.66" x2="540.50" y2="250.66" stroke="#8a8a8a" stroke-width="1.3"/>
<text x="471.79999999999995" y="250.05999999999997" font-size="5.7" fill="#4a4a4a" text-anchor="start" style='font-family:"Liberation Mono", monospace' textLength="14.80" lengthAdjust="spacingAndGlyphs">Klk1</text>
<line x1="467.40" y1="256.88" x2="540.50" y2="256.88" stroke="#8a8a8a" stroke-width="1.3"/>
<text x="471.79999999999995" y="256.28" font-size="5.7" fill="#4a4a4a" text-anchor="start" style='font-family:"Liberation Mono", monospace' textLength="18.50" lengthAdjust="spacingAndGlyphs">Srk7l</text>
<line x1="467.40" y1="263.10" x2="540.50" y2="263.10" stroke="#8a8a8a" stroke-width="1.3"/>
<text x="471.79999999999995" y="262.49999999999994" font-size="5.7" fill="#4a4a4a" text-anchor="start" style='font-family:"Liberation Mono", monospace' textLength="14.80" lengthAdjust="spacingAndGlyphs">Epor</text>
<line x1="467.40" y1="269.32" x2="540.50" y2="269.32" stroke="#8a8a8a" stroke-width="1.3"/>
<text x="471.79999999999995" y="268.71999999999997" font-size="5.7" fill="#4a4a4a" text-anchor="start" style='font-family:"Liberation Mono", monospace' textLength="11.10" lengthAdjust="spacingAndGlyphs">Fos</text>
<line x1="467.40" y1="275.54" x2="540.50" y2="275.54" stroke="#8a8a8a" stroke-width="1.3"/>
<text x="471.79999999999995" y="274.93999999999994" font-size="5.7" fill="#4a4a4a" text-anchor="start" style='font-family:"Liberation Mono", monospace' textLength="22.20" lengthAdjust="spacingAndGlyphs">Map3k4</text>
<line x1="467.40" y1="281.76" x2="540.50" y2="281.76" stroke="#8a8a8a" stroke-width="1.3"/>
<text x="471.79999999999995" y="281.15999999999997" font-size="5.7" fill="#4a4a4a" text-anchor="start" style='font-family:"Liberation Mono", monospace' textLength="18.50" lengthAdjust="spacingAndGlyphs">Hdac6</text>
<line x1="467.40" y1="287.98" x2="540.50" y2="287.98" stroke="#8a8a8a" stroke-width="1.3"/>
<text x="471.79999999999995" y="287.38" font-size="5.7" fill="#4a4a4a" text-anchor="start" style='font-family:"Liberation Mono", monospace' textLength="18.50" lengthAdjust="spacingAndGlyphs">Sirpa</text>
<line x1="467.40" y1="294.20" x2="540.50" y2="294.20" stroke="#8a8a8a" stroke-width="1.3"/>
<text x="471.79999999999995" y="293.59999999999997" font-size="5.7" fill="#4a4a4a" text-anchor="start" style='font-family:"Liberation Mono", monospace' textLength="11.10" lengthAdjust="spacingAndGlyphs">Il6</text>
<line x1="467.40" y1="300.42" x2="540.50" y2="300.42" stroke="#8a8a8a" stroke-width="1.3"/>
<text x="471.79999999999995" y="299.81999999999994" font-size="5.7" fill="#4a4a4a" text-anchor="start" style='font-family:"Liberation Mono", monospace' textLength="18.50" lengthAdjust="spacingAndGlyphs">Glrx2</text>
<line x1="467.40" y1="306.64" x2="540.50" y2="306.64" stroke="#8a8a8a" stroke-width="1.3"/>
<text x="471.79999999999995" y="306.03999999999996" font-size="5.7" fill="#4a4a4a" text-anchor="start" style='font-family:"Liberation Mono", monospace' textLength="22.20" lengthAdjust="spacingAndGlyphs">Tnnr42</text>
<line x1="467.40" y1="312.86" x2="540.50" y2="312.86" stroke="#8a8a8a" stroke-width="1.3"/>
<text x="471.79999999999995" y="312.26" font-size="5.7" fill="#4a4a4a" text-anchor="start" style='font-family:"Liberation Mono", monospace' textLength="18.50" lengthAdjust="spacingAndGlyphs">Cryaa</text>
<line x1="467.40" y1="319.08" x2="540.50" y2="319.08" stroke="#8a8a8a" stroke-width="1.3"/>
<text x="471.79999999999995" y="318.47999999999996" font-size="5.7" fill="#4a4a4a" text-anchor="start" style='font-family:"Liberation Mono", monospace' textLength="22.20" lengthAdjust="spacingAndGlyphs">Slc8a1</text>
<line x1="467.40" y1="325.30" x2="540.50" y2="325.30" stroke="#8a8a8a" stroke-width="1.3"/>
<text x="471.79999999999995" y="324.69999999999993" font-size="5.7" fill="#4a4a4a" text-anchor="start" style='font-family:"Liberation Mono", monospace' textLength="18.50" lengthAdjust="spacingAndGlyphs">Bnip3</text>
<line x1="467.40" y1="331.52" x2="540.50" y2="331.52" stroke="#8a8a8a" stroke-width="1.3"/>
<text x="471.79999999999995" y="330.91999999999996" font-size="5.7" fill="#4a4a4a" text-anchor="start" style='font-family:"Liberation Mono", monospace' textLength="14.80" lengthAdjust="spacingAndGlyphs">Cfl1</text>
<line x1="467.40" y1="337.74" x2="540.50" y2="337.74" stroke="#8a8a8a" stroke-width="1.3"/>
<text x="471.79999999999995" y="337.14" font-size="5.7" fill="#4a4a4a" text-anchor="start" style='font-family:"Liberation Mono", monospace' textLength="18.50" lengthAdjust="spacingAndGlyphs">Mapk8</text>
<line x1="467.40" y1="343.96" x2="540.50" y2="343.96" stroke="#8a8a8a" stroke-width="1.3"/>
<text x="471.79999999999995" y="343.35999999999996" font-size="5.7" fill="#4a4a4a" text-anchor="start" style='font-family:"Liberation Mono", monospace' textLength="18.50" lengthAdjust="spacingAndGlyphs">Trpm2</text>
<line x1="467.40" y1="350.18" x2="540.50" y2="350.18" stroke="#8a8a8a" stroke-width="1.3"/>
<text x="471.79999999999995" y="349.5799999999999" font-size="5.7" fill="#4a4a4a" text-anchor="start" style='font-family:"Liberation Mono", monospace' textLength="18.50" lengthAdjust="spacingAndGlyphs">Prkra</text>
<line x1="467.40" y1="356.40" x2="540.50" y2="356.40" stroke="#8a8a8a" stroke-width="1.3"/>
<text x="471.79999999999995" y="355.79999999999995" font-size="5.7" fill="#4a4a4a" text-anchor="start" style='font-family:"Liberation Mono", monospace' textLength="22.20" lengthAdjust="spacingAndGlyphs">Map3k5</text>
<line x1="467.40" y1="362.62" x2="540.50" y2="362.62" stroke="#8a8a8a" stroke-width="1.3"/>
<text x="471.79999999999995" y="362.02" font-size="5.7" fill="#4a4a4a" text-anchor="start" style='font-family:"Liberation Mono", monospace' textLength="18.50" lengthAdjust="spacingAndGlyphs">Hdac2</text>
<line x1="467.40" y1="368.84" x2="540.50" y2="368.84" stroke="#8a8a8a" stroke-width="1.3"/>
<text x="471.79999999999995" y="368.23999999999995" font-size="5.7" fill="#4a4a4a" text-anchor="start" style='font-family:"Liberation Mono", monospace' textLength="18.50" lengthAdjust="spacingAndGlyphs">Foxo1</text>
<line x1="467.40" y1="375.06" x2="540.50" y2="375.06" stroke="#8a8a8a" stroke-width="1.3"/>
<text x="471.79999999999995" y="374.4599999999999" font-size="5.7" fill="#4a4a4a" text-anchor="start" style='font-family:"Liberation Mono", monospace' textLength="18.50" lengthAdjust="spacingAndGlyphs">Tacr1</text>
<rect x="428.20" y="445.50" width="6.42" height="80.30" fill="#c4c4c4"/>
<rect x="428.20" y="525.80" width="6.42" height="13.90" fill="#fff"/>
<rect x="434.62" y="445.50" width="6.42" height="80.30" fill="#c4c4c4"/>
<rect x="434.62" y="525.80" width="6.42" height="13.90" fill="#fff"/>
<rect x="441.03" y="445.50" width="6.42" height="80.30" fill="#c4c4c4"/>
<rect x="441.03" y="525.80" width="6.42" height="13.90" fill="#fff"/>
<rect x="447.45" y="445.50" width="6.42" height="80.30" fill="#ffc400"/>
<rect x="447.45" y="525.80" width="6.42" height="13.90" fill="#fff"/>
<rect x="453.87" y="445.50" width="6.42" height="80.30" fill="#ffc400"/>
<rect x="453.87" y="525.80" width="6.42" height="13.90" fill="#fff"/>
<rect x="460.28" y="445.50" width="6.42" height="80.30" fill="#ffc400"/>
<rect x="460.28" y="525.80" width="6.42" height="13.90" fill="#fff"/>
<text x="0" y="0" transform="translate(432.91,525.0) rotate(-90)" font-size="4.6" fill="#2a2a2a" textLength="58.3" lengthAdjust="spacingAndGlyphs" style='font-family:"Liberation Mono", monospace'>cerebellum_npc_1</text>
<text x="0" y="0" transform="translate(439.32,525.0) rotate(-90)" font-size="4.6" fill="#2a2a2a" textLength="58.3" lengthAdjust="spacingAndGlyphs" style='font-family:"Liberation Mono", monospace'>cerebellum_npc_2</text>
<text x="0" y="0" transform="translate(445.74,525.0) rotate(-90)" font-size="4.6" fill="#2a2a2a" textLength="58.3" lengthAdjust="spacingAndGlyphs" style='font-family:"Liberation Mono", monospace'>cerebellum_npc_3</text>
<text x="0" y="0" transform="translate(452.16,525.0) rotate(-90)" font-size="4.6" fill="#2a2a2a" textLength="73.8" lengthAdjust="spacingAndGlyphs" style='font-family:"Liberation Mono", monospace'>cerebellum_control_1</text>
<text x="0" y="0" transform="translate(458.57,525.0) rotate(-90)" font-size="4.6" fill="#2a2a2a" textLength="73.8" lengthAdjust="spacingAndGlyphs" style='font-family:"Liberation Mono", monospace'>cerebellum_control_2</text>
<text x="0" y="0" transform="translate(464.99,525.0) rotate(-90)" font-size="4.6" fill="#2a2a2a" textLength="73.8" lengthAdjust="spacingAndGlyphs" style='font-family:"Liberation Mono", monospace'>cerebellum_control_3</text>
<line x1="428.20" y1="445.50" x2="428.20" y2="539.70" stroke="#8a8a8a" stroke-width="0.9"/>
<line x1="434.62" y1="445.50" x2="434.62" y2="539.70" stroke="#8a8a8a" stroke-width="0.9"/>
<line x1="441.03" y1="445.50" x2="441.03" y2="539.70" stroke="#8a8a8a" stroke-width="0.9"/>
<line x1="447.45" y1="445.50" x2="447.45" y2="539.70" stroke="#8a8a8a" stroke-width="0.9"/>
<line x1="453.87" y1="445.50" x2="453.87" y2="539.70" stroke="#8a8a8a" stroke-width="0.9"/>
<line x1="460.28" y1="445.50" x2="460.28" y2="539.70" stroke="#8a8a8a" stroke-width="0.9"/>
<line x1="466.70" y1="445.50" x2="466.70" y2="539.70" stroke="#8a8a8a" stroke-width="0.9"/>
<rect x="467.80" y="455.40" width="0.90" height="2.20" fill="#777"/>
<rect x="467.80" y="485.40" width="0.90" height="2.20" fill="#777"/>
<rect x="428.20" y="539.70" width="6.42" height="6.43" fill="#ff0000"/>
<rect x="434.62" y="539.70" width="6.42" height="6.43" fill="#ff7a80"/>
<rect x="441.03" y="539.70" width="6.42" height="6.43" fill="#ff0000"/>
<rect x="447.45" y="539.70" width="6.42" height="6.43" fill="#4a00b8"/>
<rect x="453.87" y="539.70" width="6.42" height="6.43" fill="#2200dd"/>
<rect x="460.28" y="539.70" width="6.42" height="6.43" fill="#2200dd"/>
<rect x="428.20" y="546.13" width="6.42" height="6.43" fill="#ccccff"/>
<rect x="434.62" y="546.13" width="6.42" height="6.43" fill="#ff0000"/>
<rect x="441.03" y="546.13" width="6.42" height="6.43" fill="#ff4c4c"/>
<rect x="447.45" y="546.13" width="6.42" height="6.43" fill="#2200dd"/>
<rect x="453.87" y="546.13" width="6.42" height="6.43" fill="#4a00b8"/>
<rect x="460.28" y="546.13" width="6.42" height="6.43" fill="#8080ff"/>
<rect x="428.20" y="552.56" width="6.42" height="6.43" fill="#ff0000"/>
<rect x="434.62" y="552.56" width="6.42" height="6.43" fill="#ff7a80"/>
<rect x="441.03" y="552.56" width="6.42" height="6.43" fill="#ff0000"/>
<rect x="447.45" y="552.56" width="6.42" height="6.43" fill="#4a00b8"/>
<rect x="453.87" y="552.56" width="6.42" height="6.43" fill="#4a00b8"/>
<rect x="460.28" y="552.56" width="6.42" height="6.43" fill="#ccccff"/>
<rect x="428.20" y="559.00" width="6.42" height="6.43" fill="#ff7a80"/>
<rect x="434.62" y="559.00" width="6.42" height="6.43" fill="#ccccff"/>
<rect x="441.03" y="559.00" width="6.42" height="6.43" fill="#ff0000"/>
<rect x="447.45" y="559.00" width="6.42" height="6.43" fill="#4a00b8"/>
<rect x="453.87" y="559.00" width="6.42" height="6.43" fill="#4a00b8"/>
<rect x="460.28" y="559.00" width="6.42" height="6.43" fill="#2200dd"/>
<rect x="428.20" y="565.43" width="6.42" height="6.43" fill="#ff0000"/>
<rect x="434.62" y="565.43" width="6.42" height="6.43" fill="#2200dd"/>
<rect x="441.03" y="565.43" width="6.42" height="6.43" fill="#ff4c4c"/>
<rect x="447.45" y="565.43" width="6.42" height="6.43" fill="#4a00b8"/>
<rect x="453.87" y="565.43" width="6.42" height="6.43" fill="#4a00b8"/>
<rect x="460.28" y="565.43" width="6.42" height="6.43" fill="#2200dd"/>
<rect x="428.20" y="571.86" width="6.42" height="6.43" fill="#ff7a80"/>
<rect x="434.62" y="571.86" width="6.42" height="6.43" fill="#ccccff"/>
<rect x="441.03" y="571.86" width="6.42" height="6.43" fill="#ff0000"/>
<rect x="447.45" y="571.86" width="6.42" height="6.43" fill="#4a00b8"/>
<rect x="453.87" y="571.86" width="6.42" height="6.43" fill="#8080ff"/>
<rect x="460.28" y="571.86" width="6.42" height="6.43" fill="#ccccff"/>
<rect x="428.20" y="578.29" width="6.42" height="6.43" fill="#ff0000"/>
<rect x="434.62" y="578.29" width="6.42" height="6.43" fill="#4a00b8"/>
<rect x="441.03" y="578.29" width="6.42" height="6.43" fill="#ff0000"/>
<rect x="447.45" y="578.29" width="6.42" height="6.43" fill="#4a00b8"/>
<rect x="453.87" y="578.29" width="6.42" height="6.43" fill="#4a00b8"/>
<rect x="460.28" y="578.29" width="6.42" height="6.43" fill="#4a00b8"/>
<rect x="428.20" y="584.72" width="6.42" height="6.43" fill="#ff0000"/>
<rect x="434.62" y="584.72" width="6.42" height="6.43" fill="#4a00b8"/>
<rect x="441.03" y="584.72" width="6.42" height="6.43" fill="#ff4c4c"/>
<rect x="447.45" y="584.72" width="6.42" height="6.43" fill="#4a00b8"/>
<rect x="453.87" y="584.72" width="6.42" height="6.43" fill="#4a00b8"/>
<rect x="460.28" y="584.72" width="6.42" height="6.43" fill="#2200dd"/>
<rect x="428.20" y="591.16" width="6.42" height="6.43" fill="#ff0000"/>
<rect x="434.62" y="591.16" width="6.42" height="6.43" fill="#ff4c4c"/>
<rect x="441.03" y="591.16" width="6.42" height="6.43" fill="#ff0000"/>
<rect x="447.45" y="591.16" width="6.42" height="6.43" fill="#ccccff"/>
<rect x="453.87" y="591.16" width="6.42" height="6.43" fill="#4a00b8"/>
<rect x="460.28" y="591.16" width="6.42" height="6.43" fill="#ccccff"/>
<rect x="428.20" y="597.59" width="6.42" height="6.43" fill="#ff7a80"/>
<rect x="434.62" y="597.59" width="6.42" height="6.43" fill="#2200dd"/>
<rect x="441.03" y="597.59" width="6.42" height="6.43" fill="#ff0000"/>
<rect x="447.45" y="597.59" width="6.42" height="6.43" fill="#4a00b8"/>
<rect x="453.87" y="597.59" width="6.42" height="6.43" fill="#2200dd"/>
<rect x="460.28" y="597.59" width="6.42" height="6.43" fill="#2200dd"/>
<rect x="428.20" y="604.02" width="6.42" height="6.43" fill="#ffc6e8"/>
<rect x="434.62" y="604.02" width="6.42" height="6.43" fill="#ff7a80"/>
<rect x="441.03" y="604.02" width="6.42" height="6.43" fill="#ff0000"/>
<rect x="447.45" y="604.02" width="6.42" height="6.43" fill="#4a00b8"/>
<rect x="453.87" y="604.02" width="6.42" height="6.43" fill="#4a00b8"/>
<rect x="460.28" y="604.02" width="6.42" height="6.43" fill="#ffc6e8"/>
<rect x="428.20" y="610.45" width="6.42" height="6.43" fill="#8080ff"/>
<rect x="434.62" y="610.45" width="6.42" height="6.43" fill="#ff4c4c"/>
<rect x="441.03" y="610.45" width="6.42" height="6.43" fill="#ff0000"/>
<rect x="447.45" y="610.45" width="6.42" height="6.43" fill="#ccccff"/>
<rect x="453.87" y="610.45" width="6.42" height="6.43" fill="#4a00b8"/>
<rect x="460.28" y="610.45" width="6.42" height="6.43" fill="#ccccff"/>
<rect x="428.20" y="616.88" width="6.42" height="6.43" fill="#ffc6e8"/>
<rect x="434.62" y="616.88" width="6.42" height="6.43" fill="#ff0000"/>
<rect x="441.03" y="616.88" width="6.42" height="6.43" fill="#ffc6e8"/>
<rect x="447.45" y="616.88" width="6.42" height="6.43" fill="#ffc6e8"/>
<rect x="453.87" y="616.88" width="6.42" height="6.43" fill="#4a00b8"/>
<rect x="460.28" y="616.88" width="6.42" height="6.43" fill="#4a00b8"/>
<rect x="428.20" y="623.32" width="6.42" height="6.43" fill="#ff4c4c"/>
<rect x="434.62" y="623.32" width="6.42" height="6.43" fill="#8080ff"/>
<rect x="441.03" y="623.32" width="6.42" height="6.43" fill="#ff0000"/>
<rect x="447.45" y="623.32" width="6.42" height="6.43" fill="#2200dd"/>
<rect x="453.87" y="623.32" width="6.42" height="6.43" fill="#4a00b8"/>
<rect x="460.28" y="623.32" width="6.42" height="6.43" fill="#ffc6e8"/>
<rect x="428.20" y="629.75" width="6.42" height="6.43" fill="#ff4c4c"/>
<rect x="434.62" y="629.75" width="6.42" height="6.43" fill="#2200dd"/>
<rect x="441.03" y="629.75" width="6.42" height="6.43" fill="#ff0000"/>
<rect x="447.45" y="629.75" width="6.42" height="6.43" fill="#8080ff"/>
<rect x="453.87" y="629.75" width="6.42" height="6.43" fill="#4a00b8"/>
<rect x="460.28" y="629.75" width="6.42" height="6.43" fill="#2200dd"/>
<rect x="428.20" y="636.18" width="6.42" height="6.43" fill="#4a00b8"/>
<rect x="434.62" y="636.18" width="6.42" height="6.43" fill="#ff4c4c"/>
<rect x="441.03" y="636.18" width="6.42" height="6.43" fill="#ff0000"/>
<rect x="447.45" y="636.18" width="6.42" height="6.43" fill="#4a00b8"/>
<rect x="453.87" y="636.18" width="6.42" height="6.43" fill="#4a00b8"/>
<rect x="460.28" y="636.18" width="6.42" height="6.43" fill="#4a00b8"/>
<rect x="428.20" y="642.61" width="6.42" height="6.43" fill="#ff4c4c"/>
<rect x="434.62" y="642.61" width="6.42" height="6.43" fill="#ffc6e8"/>
<rect x="441.03" y="642.61" width="6.42" height="6.43" fill="#ff0000"/>
<rect x="447.45" y="642.61" width="6.42" height="6.43" fill="#4a00b8"/>
<rect x="453.87" y="642.61" width="6.42" height="6.43" fill="#8080ff"/>
<rect x="460.28" y="642.61" width="6.42" height="6.43" fill="#8080ff"/>
<rect x="428.20" y="649.04" width="6.42" height="6.43" fill="#ff0000"/>
<rect x="434.62" y="649.04" width="6.42" height="6.43" fill="#8080ff"/>
<rect x="441.03" y="649.04" width="6.42" height="6.43" fill="#ff4c4c"/>
<rect x="447.45" y="649.04" width="6.42" height="6.43" fill="#ccccff"/>
<rect x="453.87" y="649.04" width="6.42" height="6.43" fill="#4a00b8"/>
<rect x="460.28" y="649.04" width="6.42" height="6.43" fill="#ccccff"/>
<rect x="428.20" y="655.48" width="6.42" height="6.43" fill="#ffc6e8"/>
<rect x="434.62" y="655.48" width="6.42" height="6.43" fill="#4a00b8"/>
<rect x="441.03" y="655.48" width="6.42" height="6.43" fill="#ff0000"/>
<rect x="447.45" y="655.48" width="6.42" height="6.43" fill="#4a00b8"/>
<rect x="453.87" y="655.48" width="6.42" height="6.43" fill="#4a00b8"/>
<rect x="460.28" y="655.48" width="6.42" height="6.43" fill="#4a00b8"/>
<rect x="428.20" y="661.91" width="6.42" height="6.43" fill="#8080ff"/>
<rect x="434.62" y="661.91" width="6.42" height="6.43" fill="#ff4c4c"/>
<rect x="441.03" y="661.91" width="6.42" height="6.43" fill="#ff0000"/>
<rect x="447.45" y="661.91" width="6.42" height="6.43" fill="#2200dd"/>
<rect x="453.87" y="661.91" width="6.42" height="6.43" fill="#4a00b8"/>
<rect x="460.28" y="661.91" width="6.42" height="6.43" fill="#ccccff"/>
<rect x="428.20" y="668.34" width="6.42" height="6.43" fill="#ccccff"/>
<rect x="434.62" y="668.34" width="6.42" height="6.43" fill="#ff7a80"/>
<rect x="441.03" y="668.34" width="6.42" height="6.43" fill="#ff0000"/>
<rect x="447.45" y="668.34" width="6.42" height="6.43" fill="#ffc6e8"/>
<rect x="453.87" y="668.34" width="6.42" height="6.43" fill="#4a00b8"/>
<rect x="460.28" y="668.34" width="6.42" height="6.43" fill="#4a00b8"/>
<rect x="428.20" y="674.77" width="6.42" height="6.43" fill="#ccccff"/>
<rect x="434.62" y="674.77" width="6.42" height="6.43" fill="#ccccff"/>
<rect x="441.03" y="674.77" width="6.42" height="6.43" fill="#ff0000"/>
<rect x="447.45" y="674.77" width="6.42" height="6.43" fill="#4a00b8"/>
<rect x="453.87" y="674.77" width="6.42" height="6.43" fill="#4a00b8"/>
<rect x="460.28" y="674.77" width="6.42" height="6.43" fill="#ffc6e8"/>
<rect x="428.20" y="681.20" width="6.42" height="6.43" fill="#ff0000"/>
<rect x="434.62" y="681.20" width="6.42" height="6.43" fill="#ff7a80"/>
<rect x="441.03" y="681.20" width="6.42" height="6.43" fill="#ff4c4c"/>
<rect x="447.45" y="681.20" width="6.42" height="6.43" fill="#8080ff"/>
<rect x="453.87" y="681.20" width="6.42" height="6.43" fill="#8080ff"/>
<rect x="460.28" y="681.20" width="6.42" height="6.43" fill="#4a00b8"/>
<rect x="428.20" y="687.64" width="6.42" height="6.43" fill="#ff0000"/>
<rect x="434.62" y="687.64" width="6.42" height="6.43" fill="#ffc6e8"/>
<rect x="441.03" y="687.64" width="6.42" height="6.43" fill="#ff7a80"/>
<rect x="447.45" y="687.64" width="6.42" height="6.43" fill="#4a00b8"/>
<rect x="453.87" y="687.64" width="6.42" height="6.43" fill="#8080ff"/>
<rect x="460.28" y="687.64" width="6.42" height="6.43" fill="#ff4c4c"/>
<rect x="428.20" y="694.07" width="6.42" height="6.43" fill="#ff4c4c"/>
<rect x="434.62" y="694.07" width="6.42" height="6.43" fill="#2200dd"/>
<rect x="441.03" y="694.07" width="6.42" height="6.43" fill="#ff0000"/>
<rect x="447.45" y="694.07" width="6.42" height="6.43" fill="#4a00b8"/>
<rect x="453.87" y="694.07" width="6.42" height="6.43" fill="#8080ff"/>
<rect x="460.28" y="694.07" width="6.42" height="6.43" fill="#ffc6e8"/>
<rect x="428.20" y="700.50" width="6.42" height="6.43" fill="#ff0000"/>
<rect x="434.62" y="700.50" width="6.42" height="6.43" fill="#ccccff"/>
<rect x="441.03" y="700.50" width="6.42" height="6.43" fill="#ff0000"/>
<rect x="447.45" y="700.50" width="6.42" height="6.43" fill="#2200dd"/>
<rect x="453.87" y="700.50" width="6.42" height="6.43" fill="#4a00b8"/>
<rect x="460.28" y="700.50" width="6.42" height="6.43" fill="#ff4c4c"/>
<rect x="428.20" y="706.93" width="6.42" height="6.43" fill="#8080ff"/>
<rect x="434.62" y="706.93" width="6.42" height="6.43" fill="#ff0000"/>
<rect x="441.03" y="706.93" width="6.42" height="6.43" fill="#ff0000"/>
<rect x="447.45" y="706.93" width="6.42" height="6.43" fill="#ccccff"/>
<rect x="453.87" y="706.93" width="6.42" height="6.43" fill="#ff7a80"/>
<rect x="460.28" y="706.93" width="6.42" height="6.43" fill="#4a00b8"/>
<rect x="428.20" y="713.36" width="6.42" height="6.43" fill="#4a00b8"/>
<rect x="434.62" y="713.36" width="6.42" height="6.43" fill="#ff0000"/>
<rect x="441.03" y="713.36" width="6.42" height="6.43" fill="#ffc6e8"/>
<rect x="447.45" y="713.36" width="6.42" height="6.43" fill="#4a00b8"/>
<rect x="453.87" y="713.36" width="6.42" height="6.43" fill="#4a00b8"/>
<rect x="460.28" y="713.36" width="6.42" height="6.43" fill="#4a00b8"/>
<rect x="428.20" y="719.80" width="6.42" height="6.43" fill="#ff0000"/>
<rect x="434.62" y="719.80" width="6.42" height="6.43" fill="#4a00b8"/>
<rect x="441.03" y="719.80" width="6.42" height="6.43" fill="#4a00b8"/>
<rect x="447.45" y="719.80" width="6.42" height="6.43" fill="#4a00b8"/>
<rect x="453.87" y="719.80" width="6.42" height="6.43" fill="#4a00b8"/>
<rect x="460.28" y="719.80" width="6.42" height="6.43" fill="#4a00b8"/>
<rect x="428.20" y="726.23" width="6.42" height="6.43" fill="#ff0000"/>
<rect x="434.62" y="726.23" width="6.42" height="6.43" fill="#ccccff"/>
<rect x="441.03" y="726.23" width="6.42" height="6.43" fill="#ff0000"/>
<rect x="447.45" y="726.23" width="6.42" height="6.43" fill="#4a00b8"/>
<rect x="453.87" y="726.23" width="6.42" height="6.43" fill="#ccccff"/>
<rect x="460.28" y="726.23" width="6.42" height="6.43" fill="#ff7a80"/>
<rect x="428.20" y="732.66" width="6.42" height="6.43" fill="#4a00b8"/>
<rect x="434.62" y="732.66" width="6.42" height="6.43" fill="#ff0000"/>
<rect x="441.03" y="732.66" width="6.42" height="6.43" fill="#4a00b8"/>
<rect x="447.45" y="732.66" width="6.42" height="6.43" fill="#8080ff"/>
<rect x="453.87" y="732.66" width="6.42" height="6.43" fill="#4a00b8"/>
<rect x="460.28" y="732.66" width="6.42" height="6.43" fill="#4a00b8"/>
<rect x="428.20" y="739.09" width="6.42" height="6.43" fill="#4a00b8"/>
<rect x="434.62" y="739.09" width="6.42" height="6.43" fill="#ff0000"/>
<rect x="441.03" y="739.09" width="6.42" height="6.43" fill="#ff4c4c"/>
<rect x="447.45" y="739.09" width="6.42" height="6.43" fill="#4a00b8"/>
<rect x="453.87" y="739.09" width="6.42" height="6.43" fill="#4a00b8"/>
<rect x="460.28" y="739.09" width="6.42" height="6.43" fill="#4a00b8"/>
<rect x="428.20" y="745.52" width="6.42" height="6.43" fill="#ccccff"/>
<rect x="434.62" y="745.52" width="6.42" height="6.43" fill="#ff4c4c"/>
<rect x="441.03" y="745.52" width="6.42" height="6.43" fill="#ff0000"/>
<rect x="447.45" y="745.52" width="6.42" height="6.43" fill="#ccccff"/>
<rect x="453.87" y="745.52" width="6.42" height="6.43" fill="#ccccff"/>
<rect x="460.28" y="745.52" width="6.42" height="6.43" fill="#4a00b8"/>
<rect x="428.20" y="751.96" width="6.42" height="6.43" fill="#ccccff"/>
<rect x="434.62" y="751.96" width="6.42" height="6.43" fill="#ccccff"/>
<rect x="441.03" y="751.96" width="6.42" height="6.43" fill="#ff0000"/>
<rect x="447.45" y="751.96" width="6.42" height="6.43" fill="#8080ff"/>
<rect x="453.87" y="751.96" width="6.42" height="6.43" fill="#4a00b8"/>
<rect x="460.28" y="751.96" width="6.42" height="6.43" fill="#ccccff"/>
<rect x="428.20" y="758.39" width="6.42" height="6.43" fill="#ffc6e8"/>
<rect x="434.62" y="758.39" width="6.42" height="6.43" fill="#ff0000"/>
<rect x="441.03" y="758.39" width="6.42" height="6.43" fill="#ff7a80"/>
<rect x="447.45" y="758.39" width="6.42" height="6.43" fill="#ff7a80"/>
<rect x="453.87" y="758.39" width="6.42" height="6.43" fill="#ccccff"/>
<rect x="460.28" y="758.39" width="6.42" height="6.43" fill="#4a00b8"/>
<rect x="428.20" y="764.82" width="6.42" height="6.43" fill="#ff0000"/>
<rect x="434.62" y="764.82" width="6.42" height="6.43" fill="#ccccff"/>
<rect x="441.03" y="764.82" width="6.42" height="6.43" fill="#ff4c4c"/>
<rect x="447.45" y="764.82" width="6.42" height="6.43" fill="#ff0000"/>
<rect x="453.87" y="764.82" width="6.42" height="6.43" fill="#4a00b8"/>
<rect x="460.28" y="764.82" width="6.42" height="6.43" fill="#ccccff"/>
<rect x="428.20" y="771.25" width="6.42" height="6.43" fill="#ff7a80"/>
<rect x="434.62" y="771.25" width="6.42" height="6.43" fill="#ff7a80"/>
<rect x="441.03" y="771.25" width="6.42" height="6.43" fill="#ff0000"/>
<rect x="447.45" y="771.25" width="6.42" height="6.43" fill="#4a00b8"/>
<rect x="453.87" y="771.25" width="6.42" height="6.43" fill="#ccccff"/>
<rect x="460.28" y="771.25" width="6.42" height="6.43" fill="#ff0000"/>
<rect x="428.20" y="777.68" width="6.42" height="6.43" fill="#ccccff"/>
<rect x="434.62" y="777.68" width="6.42" height="6.43" fill="#4a00b8"/>
<rect x="441.03" y="777.68" width="6.42" height="6.43" fill="#ff0000"/>
<rect x="447.45" y="777.68" width="6.42" height="6.43" fill="#ccccff"/>
<rect x="453.87" y="777.68" width="6.42" height="6.43" fill="#8080ff"/>
<rect x="460.28" y="777.68" width="6.42" height="6.43" fill="#4a00b8"/>
<rect x="428.20" y="784.12" width="6.42" height="6.43" fill="#ffc6e8"/>
<rect x="434.62" y="784.12" width="6.42" height="6.43" fill="#8080ff"/>
<rect x="441.03" y="784.12" width="6.42" height="6.43" fill="#ff0000"/>
<rect x="447.45" y="784.12" width="6.42" height="6.43" fill="#8080ff"/>
<rect x="453.87" y="784.12" width="6.42" height="6.43" fill="#4a00b8"/>
<rect x="460.28" y="784.12" width="6.42" height="6.43" fill="#ff7a80"/>
<rect x="428.20" y="790.55" width="6.42" height="6.43" fill="#ff0000"/>
<rect x="434.62" y="790.55" width="6.42" height="6.43" fill="#ff7a80"/>
<rect x="441.03" y="790.55" width="6.42" height="6.43" fill="#4a00b8"/>
<rect x="447.45" y="790.55" width="6.42" height="6.43" fill="#8080ff"/>
<rect x="453.87" y="790.55" width="6.42" height="6.43" fill="#ffc6e8"/>
<rect x="460.28" y="790.55" width="6.42" height="6.43" fill="#8080ff"/>
<rect x="428.20" y="796.98" width="6.42" height="6.43" fill="#ff4c4c"/>
<rect x="434.62" y="796.98" width="6.42" height="6.43" fill="#4a00b8"/>
<rect x="441.03" y="796.98" width="6.42" height="6.43" fill="#ff0000"/>
<rect x="447.45" y="796.98" width="6.42" height="6.43" fill="#ccccff"/>
<rect x="453.87" y="796.98" width="6.42" height="6.43" fill="#4a00b8"/>
<rect x="460.28" y="796.98" width="6.42" height="6.43" fill="#8080ff"/>
<rect x="428.20" y="803.41" width="6.42" height="6.43" fill="#ffc6e8"/>
<rect x="434.62" y="803.41" width="6.42" height="6.43" fill="#ccccff"/>
<rect x="441.03" y="803.41" width="6.42" height="6.43" fill="#ff0000"/>
<rect x="447.45" y="803.41" width="6.42" height="6.43" fill="#8080ff"/>
<rect x="453.87" y="803.41" width="6.42" height="6.43" fill="#4a00b8"/>
<rect x="460.28" y="803.41" width="6.42" height="6.43" fill="#ff4c4c"/>
<rect x="428.20" y="809.84" width="6.42" height="6.43" fill="#ff0000"/>
<rect x="434.62" y="809.84" width="6.42" height="6.43" fill="#ff7a80"/>
<rect x="441.03" y="809.84" width="6.42" height="6.43" fill="#8080ff"/>
<rect x="447.45" y="809.84" width="6.42" height="6.43" fill="#4a00b8"/>
<rect x="453.87" y="809.84" width="6.42" height="6.43" fill="#ffc6e8"/>
<rect x="460.28" y="809.84" width="6.42" height="6.43" fill="#ff7a80"/>
<rect x="428.20" y="816.28" width="6.42" height="6.43" fill="#ff4c4c"/>
<rect x="434.62" y="816.28" width="6.42" height="6.43" fill="#ff4c4c"/>
<rect x="441.03" y="816.28" width="6.42" height="6.43" fill="#ccccff"/>
<rect x="447.45" y="816.28" width="6.42" height="6.43" fill="#4a00b8"/>
<rect x="453.87" y="816.28" width="6.42" height="6.43" fill="#ff0000"/>
<rect x="460.28" y="816.28" width="6.42" height="6.43" fill="#2200dd"/>
<rect x="428.20" y="822.71" width="6.42" height="6.43" fill="#2200dd"/>
<rect x="434.62" y="822.71" width="6.42" height="6.43" fill="#ff7a80"/>
<rect x="441.03" y="822.71" width="6.42" height="6.43" fill="#ff0000"/>
<rect x="447.45" y="822.71" width="6.42" height="6.43" fill="#ffc6e8"/>
<rect x="453.87" y="822.71" width="6.42" height="6.43" fill="#4a00b8"/>
<rect x="460.28" y="822.71" width="6.42" height="6.43" fill="#ffc6e8"/>
<rect x="428.20" y="829.14" width="6.42" height="6.43" fill="#ff7a80"/>
<rect x="434.62" y="829.14" width="6.42" height="6.43" fill="#ff7a80"/>
<rect x="441.03" y="829.14" width="6.42" height="6.43" fill="#ff4c4c"/>
<rect x="447.45" y="829.14" width="6.42" height="6.43" fill="#4a00b8"/>
<rect x="453.87" y="829.14" width="6.42" height="6.43" fill="#2200dd"/>
<rect x="460.28" y="829.14" width="6.42" height="6.43" fill="#ff0000"/>
<rect x="428.20" y="835.57" width="6.42" height="6.43" fill="#ff4c4c"/>
<rect x="434.62" y="835.57" width="6.42" height="6.43" fill="#4a00b8"/>
<rect x="441.03" y="835.57" width="6.42" height="6.43" fill="#ff0000"/>
<rect x="447.45" y="835.57" width="6.42" height="6.43" fill="#4a00b8"/>
<rect x="453.87" y="835.57" width="6.42" height="6.43" fill="#ff7a80"/>
<rect x="460.28" y="835.57" width="6.42" height="6.43" fill="#ffc6e8"/>
<rect x="428.20" y="842.00" width="6.42" height="6.43" fill="#ff0000"/>
<rect x="434.62" y="842.00" width="6.42" height="6.43" fill="#ccccff"/>
<rect x="441.03" y="842.00" width="6.42" height="6.43" fill="#ffc6e8"/>
<rect x="447.45" y="842.00" width="6.42" height="6.43" fill="#4a00b8"/>
<rect x="453.87" y="842.00" width="6.42" height="6.43" fill="#ff0000"/>
<rect x="460.28" y="842.00" width="6.42" height="6.43" fill="#ccccff"/>
<rect x="428.20" y="848.44" width="6.42" height="6.43" fill="#8080ff"/>
<rect x="434.62" y="848.44" width="6.42" height="6.43" fill="#ff7a80"/>
<rect x="441.03" y="848.44" width="6.42" height="6.43" fill="#ff0000"/>
<rect x="447.45" y="848.44" width="6.42" height="6.43" fill="#ccccff"/>
<rect x="453.87" y="848.44" width="6.42" height="6.43" fill="#4a00b8"/>
<rect x="460.28" y="848.44" width="6.42" height="6.43" fill="#ff4c4c"/>
<rect x="428.20" y="854.87" width="6.42" height="6.43" fill="#4a00b8"/>
<rect x="434.62" y="854.87" width="6.42" height="6.43" fill="#4a00b8"/>
<rect x="441.03" y="854.87" width="6.42" height="6.43" fill="#ff0000"/>
<rect x="447.45" y="854.87" width="6.42" height="6.43" fill="#4a00b8"/>
<rect x="453.87" y="854.87" width="6.42" height="6.43" fill="#4a00b8"/>
<rect x="460.28" y="854.87" width="6.42" height="6.43" fill="#ffc6e8"/>
<rect x="428.20" y="861.30" width="6.42" height="6.43" fill="#ff7a80"/>
<rect x="434.62" y="861.30" width="6.42" height="6.43" fill="#ff7a80"/>
<rect x="441.03" y="861.30" width="6.42" height="6.43" fill="#ff0000"/>
<rect x="447.45" y="861.30" width="6.42" height="6.43" fill="#4a00b8"/>
<rect x="453.87" y="861.30" width="6.42" height="6.43" fill="#ccccff"/>
<rect x="460.28" y="861.30" width="6.42" height="6.43" fill="#ccccff"/>
<rect x="428.20" y="867.73" width="6.42" height="6.43" fill="#ff7a80"/>
<rect x="434.62" y="867.73" width="6.42" height="6.43" fill="#ffc6e8"/>
<rect x="441.03" y="867.73" width="6.42" height="6.43" fill="#ff0000"/>
<rect x="447.45" y="867.73" width="6.42" height="6.43" fill="#4a00b8"/>
<rect x="453.87" y="867.73" width="6.42" height="6.43" fill="#ff0000"/>
<rect x="460.28" y="867.73" width="6.42" height="6.43" fill="#ff7a80"/>
<rect x="428.20" y="874.16" width="6.42" height="6.43" fill="#ff7a80"/>
<rect x="434.62" y="874.16" width="6.42" height="6.43" fill="#ff0000"/>
<rect x="441.03" y="874.16" width="6.42" height="6.43" fill="#ccccff"/>
<rect x="447.45" y="874.16" width="6.42" height="6.43" fill="#ff4c4c"/>
<rect x="453.87" y="874.16" width="6.42" height="6.43" fill="#ccccff"/>
<rect x="460.28" y="874.16" width="6.42" height="6.43" fill="#4a00b8"/>
<rect x="428.20" y="880.60" width="6.42" height="6.43" fill="#2200dd"/>
<rect x="434.62" y="880.60" width="6.42" height="6.43" fill="#ccccff"/>
<rect x="441.03" y="880.60" width="6.42" height="6.43" fill="#ff0000"/>
<rect x="447.45" y="880.60" width="6.42" height="6.43" fill="#ccccff"/>
<rect x="453.87" y="880.60" width="6.42" height="6.43" fill="#4a00b8"/>
<rect x="460.28" y="880.60" width="6.42" height="6.43" fill="#ffc6e8"/>
<rect x="428.20" y="887.03" width="6.42" height="6.43" fill="#ffc6e8"/>
<rect x="434.62" y="887.03" width="6.42" height="6.43" fill="#ff7a80"/>
<rect x="441.03" y="887.03" width="6.42" height="6.43" fill="#ff0000"/>
<rect x="447.45" y="887.03" width="6.42" height="6.43" fill="#8080ff"/>
<rect x="453.87" y="887.03" width="6.42" height="6.43" fill="#4a00b8"/>
<rect x="460.28" y="887.03" width="6.42" height="6.43" fill="#ccccff"/>
<rect x="428.20" y="893.46" width="6.42" height="6.43" fill="#ff0000"/>
<rect x="434.62" y="893.46" width="6.42" height="6.43" fill="#ccccff"/>
<rect x="441.03" y="893.46" width="6.42" height="6.43" fill="#ff7a80"/>
<rect x="447.45" y="893.46" width="6.42" height="6.43" fill="#8080ff"/>
<rect x="453.87" y="893.46" width="6.42" height="6.43" fill="#4a00b8"/>
<rect x="460.28" y="893.46" width="6.42" height="6.43" fill="#ff0000"/>
<line x1="428.20" y1="539.70" x2="466.70" y2="539.70" stroke="#180018" stroke-width="0.75" stroke-opacity="0.8"/>
<line x1="428.20" y1="546.13" x2="466.70" y2="546.13" stroke="#180018" stroke-width="0.75" stroke-opacity="0.8"/>
<line x1="428.20" y1="552.56" x2="466.70" y2="552.56" stroke="#180018" stroke-width="0.75" stroke-opacity="0.8"/>
<line x1="428.20" y1="559.00" x2="466.70" y2="559.00" stroke="#180018" stroke-width="0.75" stroke-opacity="0.8"/>
<line x1="428.20" y1="565.43" x2="466.70" y2="565.43" stroke="#180018" stroke-width="0.75" stroke-opacity="0.8"/>
<line x1="428.20" y1="571.86" x2="466.70" y2="571.86" stroke="#180018" stroke-width="0.75" stroke-opacity="0.8"/>
<line x1="428.20" y1="578.29" x2="466.70" y2="578.29" stroke="#180018" stroke-width="0.75" stroke-opacity="0.8"/>
<line x1="428.20" y1="584.72" x2="466.70" y2="584.72" stroke="#180018" stroke-width="0.75" stroke-opacity="0.8"/>
<line x1="428.20" y1="591.16" x2="466.70" y2="591.16" stroke="#180018" stroke-width="0.75" stroke-opacity="0.8"/>
<line x1="428.20" y1="597.59" x2="466.70" y2="597.59" stroke="#180018" stroke-width="0.75" stroke-opacity="0.8"/>
<line x1="428.20" y1="604.02" x2="466.70" y2="604.02" stroke="#180018" stroke-width="0.75" stroke-opacity="0.8"/>
<line x1="428.20" y1="610.45" x2="466.70" y2="610.45" stroke="#180018" stroke-width="0.75" stroke-opacity="0.8"/>
<line x1="428.20" y1="616.88" x2="466.70" y2="616.88" stroke="#180018" stroke-width="0.75" stroke-opacity="0.8"/>
<line x1="428.20" y1="623.32" x2="466.70" y2="623.32" stroke="#180018" stroke-width="0.75" stroke-opacity="0.8"/>
<line x1="428.20" y1="629.75" x2="466.70" y2="629.75" stroke="#180018" stroke-width="0.75" stroke-opacity="0.8"/>
<line x1="428.20" y1="636.18" x2="466.70" y2="636.18" stroke="#180018" stroke-width="0.75" stroke-opacity="0.8"/>
<line x1="428.20" y1="642.61" x2="466.70" y2="642.61" stroke="#180018" stroke-width="0.75" stroke-opacity="0.8"/>
<line x1="428.20" y1="649.04" x2="466.70" y2="649.04" stroke="#180018" stroke-width="0.75" stroke-opacity="0.8"/>
<line x1="428.20" y1="655.48" x2="466.70" y2="655.48" stroke="#180018" stroke-width="0.75" stroke-opacity="0.8"/>
<line x1="428.20" y1="661.91" x2="466.70" y2="661.91" stroke="#180018" stroke-width="0.75" stroke-opacity="0.8"/>
<line x1="428.20" y1="668.34" x2="466.70" y2="668.34" stroke="#180018" stroke-width="0.75" stroke-opacity="0.8"/>
<line x1="428.20" y1="674.77" x2="466.70" y2="674.77" stroke="#180018" stroke-width="0.75" stroke-opacity="0.8"/>
<line x1="428.20" y1="681.20" x2="466.70" y2="681.20" stroke="#180018" stroke-width="0.75" stroke-opacity="0.8"/>
<line x1="428.20" y1="687.64" x2="466.70" y2="687.64" stroke="#180018" stroke-width="0.75" stroke-opacity="0.8"/>
<line x1="428.20" y1="694.07" x2="466.70" y2="694.07" stroke="#180018" stroke-width="0.75" stroke-opacity="0.8"/>
<line x1="428.20" y1="700.50" x2="466.70" y2="700.50" stroke="#180018" stroke-width="0.75" stroke-opacity="0.8"/>
<line x1="428.20" y1="706.93" x2="466.70" y2="706.93" stroke="#180018" stroke-width="0.75" stroke-opacity="0.8"/>
<line x1="428.20" y1="713.36" x2="466.70" y2="713.36" stroke="#180018" stroke-width="0.75" stroke-opacity="0.8"/>
<line x1="428.20" y1="719.80" x2="466.70" y2="719.80" stroke="#180018" stroke-width="0.75" stroke-opacity="0.8"/>
<line x1="428.20" y1="726.23" x2="466.70" y2="726.23" stroke="#180018" stroke-width="0.75" stroke-opacity="0.8"/>
<line x1="428.20" y1="732.66" x2="466.70" y2="732.66" stroke="#180018" stroke-width="0.75" stroke-opacity="0.8"/>
<line x1="428.20" y1="739.09" x2="466.70" y2="739.09" stroke="#180018" stroke-width="0.75" stroke-opacity="0.8"/>
<line x1="428.20" y1="745.52" x2="466.70" y2="745.52" stroke="#180018" stroke-width="0.75" stroke-opacity="0.8"/>
<line x1="428.20" y1="751.96" x2="466.70" y2="751.96" stroke="#180018" stroke-width="0.75" stroke-opacity="0.8"/>
<line x1="428.20" y1="758.39" x2="466.70" y2="758.39" stroke="#180018" stroke-width="0.75" stroke-opacity="0.8"/>
<line x1="428.20" y1="764.82" x2="466.70" y2="764.82" stroke="#180018" stroke-width="0.75" stroke-opacity="0.8"/>
<line x1="428.20" y1="771.25" x2="466.70" y2="771.25" stroke="#180018" stroke-width="0.75" stroke-opacity="0.8"/>
<line x1="428.20" y1="777.68" x2="466.70" y2="777.68" stroke="#180018" stroke-width="0.75" stroke-opacity="0.8"/>
<line x1="428.20" y1="784.12" x2="466.70" y2="784.12" stroke="#180018" stroke-width="0.75" stroke-opacity="0.8"/>
<line x1="428.20" y1="790.55" x2="466.70" y2="790.55" stroke="#180018" stroke-width="0.75" stroke-opacity="0.8"/>
<line x1="428.20" y1="796.98" x2="466.70" y2="796.98" stroke="#180018" stroke-width="0.75" stroke-opacity="0.8"/>
<line x1="428.20" y1="803.41" x2="466.70" y2="803.41" stroke="#180018" stroke-width="0.75" stroke-opacity="0.8"/>
<line x1="428.20" y1="809.84" x2="466.70" y2="809.84" stroke="#180018" stroke-width="0.75" stroke-opacity="0.8"/>
<line x1="428.20" y1="816.28" x2="466.70" y2="816.28" stroke="#180018" stroke-width="0.75" stroke-opacity="0.8"/>
<line x1="428.20" y1="822.71" x2="466.70" y2="822.71" stroke="#180018" stroke-width="0.75" stroke-opacity="0.8"/>
<line x1="428.20" y1="829.14" x2="466.70" y2="829.14" stroke="#180018" stroke-width="0.75" stroke-opacity="0.8"/>
<line x1="428.20" y1="835.57" x2="466.70" y2="835.57" stroke="#180018" stroke-width="0.75" stroke-opacity="0.8"/>
<line x1="428.20" y1="842.00" x2="466.70" y2="842.00" stroke="#180018" stroke-width="0.75" stroke-opacity="0.8"/>
<line x1="428.20" y1="848.44" x2="466.70" y2="848.44" stroke="#180018" stroke-width="0.75" stroke-opacity="0.8"/>
<line x1="428.20" y1="854.87" x2="466.70" y2="854.87" stroke="#180018" stroke-width="0.75" stroke-opacity="0.8"/>
<line x1="428.20" y1="861.30" x2="466.70" y2="861.30" stroke="#180018" stroke-width="0.75" stroke-opacity="0.8"/>
<line x1="428.20" y1="867.73" x2="466.70" y2="867.73" stroke="#180018" stroke-width="0.75" stroke-opacity="0.8"/>
<line x1="428.20" y1="874.16" x2="466.70" y2="874.16" stroke="#180018" stroke-width="0.75" stroke-opacity="0.8"/>
<line x1="428.20" y1="880.60" x2="466.70" y2="880.60" stroke="#180018" stroke-width="0.75" stroke-opacity="0.8"/>
<line x1="428.20" y1="887.03" x2="466.70" y2="887.03" stroke="#180018" stroke-width="0.75" stroke-opacity="0.8"/>
<line x1="428.20" y1="893.46" x2="466.70" y2="893.46" stroke="#180018" stroke-width="0.75" stroke-opacity="0.8"/>
<line x1="428.20" y1="899.89" x2="466.70" y2="899.89" stroke="#180018" stroke-width="0.75" stroke-opacity="0.8"/>
<line x1="428.20" y1="539.70" x2="428.20" y2="899.89" stroke="#180018" stroke-width="0.75" stroke-opacity="0.8"/>
<line x1="434.62" y1="539.70" x2="434.62" y2="899.89" stroke="#180018" stroke-width="0.75" stroke-opacity="0.8"/>
<line x1="441.03" y1="539.70" x2="441.03" y2="899.89" stroke="#180018" stroke-width="0.75" stroke-opacity="0.8"/>
<line x1="447.45" y1="539.70" x2="447.45" y2="899.89" stroke="#180018" stroke-width="0.75" stroke-opacity="0.8"/>
<line x1="453.87" y1="539.70" x2="453.87" y2="899.89" stroke="#180018" stroke-width="0.75" stroke-opacity="0.8"/>
<line x1="460.28" y1="539.70" x2="460.28" y2="899.89" stroke="#180018" stroke-width="0.75" stroke-opacity="0.8"/>
<line x1="466.70" y1="539.70" x2="466.70" y2="899.89" stroke="#180018" stroke-width="0.75" stroke-opacity="0.8"/>
<text x="472.8" y="533.6" font-size="7.5" fill="#666" text-anchor="start" textLength="46.400000000000034" lengthAdjust="spacingAndGlyphs" style='font-family:"Liberation Mono", monospace'>SampleName</text>
<line x1="466.70" y1="539.30" x2="541.80" y2="539.30" stroke="#9a9a9a" stroke-width="1.3"/>
<line x1="466.70" y1="546.13" x2="541.80" y2="546.13" stroke="#8a8a8a" stroke-width="1.3"/>
<text x="471.09999999999997" y="545.532" font-size="5.9" fill="#4a4a4a" text-anchor="start" style='font-family:"Liberation Mono", monospace' textLength="15.00" lengthAdjust="spacingAndGlyphs">Lcn2</text>
<line x1="466.70" y1="552.56" x2="541.80" y2="552.56" stroke="#8a8a8a" stroke-width="1.3"/>
<text x="471.09999999999997" y="551.964" font-size="5.9" fill="#4a4a4a" text-anchor="start" style='font-family:"Liberation Mono", monospace' textLength="18.75" lengthAdjust="spacingAndGlyphs">Prk7h</text>
<line x1="466.70" y1="559.00" x2="541.80" y2="559.00" stroke="#8a8a8a" stroke-width="1.3"/>
<text x="471.09999999999997" y="558.3960000000001" font-size="5.9" fill="#4a4a4a" text-anchor="start" style='font-family:"Liberation Mono", monospace' textLength="11.25" lengthAdjust="spacingAndGlyphs">Fos</text>
<line x1="466.70" y1="565.43" x2="541.80" y2="565.43" stroke="#8a8a8a" stroke-width="1.3"/>
<text x="471.09999999999997" y="564.828" font-size="5.9" fill="#4a4a4a" text-anchor="start" style='font-family:"Liberation Mono", monospace' textLength="18.75" lengthAdjust="spacingAndGlyphs">Dusp1</text>
<line x1="466.70" y1="571.86" x2="541.80" y2="571.86" stroke="#8a8a8a" stroke-width="1.3"/>
<text x="471.09999999999997" y="571.26" font-size="5.9" fill="#4a4a4a" text-anchor="start" style='font-family:"Liberation Mono", monospace' textLength="11.25" lengthAdjust="spacingAndGlyphs">Mt3</text>
<line x1="466.70" y1="578.29" x2="541.80" y2="578.29" stroke="#8a8a8a" stroke-width="1.3"/>
<text x="471.09999999999997" y="577.692" font-size="5.9" fill="#4a4a4a" text-anchor="start" style='font-family:"Liberation Mono", monospace' textLength="18.75" lengthAdjust="spacingAndGlyphs">Hmox1</text>
<line x1="466.70" y1="584.72" x2="541.80" y2="584.72" stroke="#8a8a8a" stroke-width="1.3"/>
<text x="471.09999999999997" y="584.124" font-size="5.9" fill="#4a4a4a" text-anchor="start" style='font-family:"Liberation Mono", monospace' textLength="22.50" lengthAdjust="spacingAndGlyphs">Cdkn2a</text>
<line x1="466.70" y1="591.16" x2="541.80" y2="591.16" stroke="#8a8a8a" stroke-width="1.3"/>
<text x="471.09999999999997" y="590.556" font-size="5.9" fill="#4a4a4a" text-anchor="start" style='font-family:"Liberation Mono", monospace' textLength="11.25" lengthAdjust="spacingAndGlyphs">Brk</text>
<line x1="466.70" y1="597.59" x2="541.80" y2="597.59" stroke="#8a8a8a" stroke-width="1.3"/>
<text x="471.09999999999997" y="596.988" font-size="5.9" fill="#4a4a4a" text-anchor="start" style='font-family:"Liberation Mono", monospace' textLength="15.00" lengthAdjust="spacingAndGlyphs">Ddr2</text>
<line x1="466.70" y1="604.02" x2="541.80" y2="604.02" stroke="#8a8a8a" stroke-width="1.3"/>
<text x="471.09999999999997" y="603.4200000000001" font-size="5.9" fill="#4a4a4a" text-anchor="start" style='font-family:"Liberation Mono", monospace' textLength="18.75" lengthAdjust="spacingAndGlyphs">Ripk3</text>
<line x1="466.70" y1="610.45" x2="541.80" y2="610.45" stroke="#8a8a8a" stroke-width="1.3"/>
<text x="471.09999999999997" y="609.852" font-size="5.9" fill="#4a4a4a" text-anchor="start" style='font-family:"Liberation Mono", monospace' textLength="15.00" lengthAdjust="spacingAndGlyphs">Bcl2</text>
<line x1="466.70" y1="616.88" x2="541.80" y2="616.88" stroke="#8a8a8a" stroke-width="1.3"/>
<text x="471.09999999999997" y="616.284" font-size="5.9" fill="#4a4a4a" text-anchor="start" style='font-family:"Liberation Mono", monospace' textLength="18.75" lengthAdjust="spacingAndGlyphs">Ptprn</text>
<line x1="466.70" y1="623.32" x2="541.80" y2="623.32" stroke="#8a8a8a" stroke-width="1.3"/>
<text x="471.09999999999997" y="622.716" font-size="5.9" fill="#4a4a4a" text-anchor="start" style='font-family:"Liberation Mono", monospace' textLength="15.00" lengthAdjust="spacingAndGlyphs">Cd36</text>
<line x1="466.70" y1="629.75" x2="541.80" y2="629.75" stroke="#8a8a8a" stroke-width="1.3"/>
<text x="471.09999999999997" y="629.148" font-size="5.9" fill="#4a4a4a" text-anchor="start" style='font-family:"Liberation Mono", monospace' textLength="22.50" lengthAdjust="spacingAndGlyphs">Nfe2l2</text>
<line x1="466.70" y1="636.18" x2="541.80" y2="636.18" stroke="#8a8a8a" stroke-width="1.3"/>
<text x="471.09999999999997" y="635.58" font-size="5.9" fill="#4a4a4a" text-anchor="start" style='font-family:"Liberation Mono", monospace' textLength="11.25" lengthAdjust="spacingAndGlyphs">Axl</text>
<line x1="466.70" y1="642.61" x2="541.80" y2="642.61" stroke="#8a8a8a" stroke-width="1.3"/>
<text x="471.09999999999997" y="642.0120000000001" font-size="5.9" fill="#4a4a4a" text-anchor="start" style='font-family:"Liberation Mono", monospace' textLength="18.75" lengthAdjust="spacingAndGlyphs">Trpa1</text>
<line x1="466.70" y1="649.04" x2="541.80" y2="649.04" stroke="#8a8a8a" stroke-width="1.3"/>
<text x="471.09999999999997" y="648.4440000000001" font-size="5.9" fill="#4a4a4a" text-anchor="start" style='font-family:"Liberation Mono", monospace' textLength="18.75" lengthAdjust="spacingAndGlyphs">Ripk1</text>
<line x1="466.70" y1="655.48" x2="541.80" y2="655.48" stroke="#8a8a8a" stroke-width="1.3"/>
<text x="471.09999999999997" y="654.8760000000001" font-size="5.9" fill="#4a4a4a" text-anchor="start" style='font-family:"Liberation Mono", monospace' textLength="18.75" lengthAdjust="spacingAndGlyphs">Sesn2</text>
<line x1="466.70" y1="661.91" x2="541.80" y2="661.91" stroke="#8a8a8a" stroke-width="1.3"/>
<text x="471.09999999999997" y="661.308" font-size="5.9" fill="#4a4a4a" text-anchor="start" style='font-family:"Liberation Mono", monospace' textLength="11.25" lengthAdjust="spacingAndGlyphs">Met</text>
<line x1="466.70" y1="668.34" x2="541.80" y2="668.34" stroke="#8a8a8a" stroke-width="1.3"/>
<text x="471.09999999999997" y="667.74" font-size="5.9" fill="#4a4a4a" text-anchor="start" style='font-family:"Liberation Mono", monospace' textLength="18.75" lengthAdjust="spacingAndGlyphs">Trp53</text>
<line x1="466.70" y1="674.77" x2="541.80" y2="674.77" stroke="#8a8a8a" stroke-width="1.3"/>
<text x="471.09999999999997" y="674.172" font-size="5.9" fill="#4a4a4a" text-anchor="start" style='font-family:"Liberation Mono", monospace' textLength="11.25" lengthAdjust="spacingAndGlyphs">Mt3</text>
<line x1="466.70" y1="681.20" x2="541.80" y2="681.20" stroke="#8a8a8a" stroke-width="1.3"/>
<text x="471.09999999999997" y="680.604" font-size="5.9" fill="#4a4a4a" text-anchor="start" style='font-family:"Liberation Mono", monospace' textLength="18.75" lengthAdjust="spacingAndGlyphs">Atp7a</text>
<line x1="466.70" y1="687.64" x2="541.80" y2="687.64" stroke="#8a8a8a" stroke-width="1.3"/>
<text x="471.09999999999997" y="687.0360000000001" font-size="5.9" fill="#4a4a4a" text-anchor="start" style='font-family:"Liberation Mono", monospace' textLength="15.00" lengthAdjust="spacingAndGlyphs">Nqo1</text>
<line x1="466.70" y1="694.07" x2="541.80" y2="694.07" stroke="#8a8a8a" stroke-width="1.3"/>
<text x="471.09999999999997" y="693.468" font-size="5.9" fill="#4a4a4a" text-anchor="start" style='font-family:"Liberation Mono", monospace' textLength="15.00" lengthAdjust="spacingAndGlyphs">Edn1</text>
<line x1="466.70" y1="700.50" x2="541.80" y2="700.50" stroke="#8a8a8a" stroke-width="1.3"/>
<text x="471.09999999999997" y="699.9" font-size="5.9" fill="#4a4a4a" text-anchor="start" style='font-family:"Liberation Mono", monospace' textLength="30.00" lengthAdjust="spacingAndGlyphs">Ppp1r15b</text>
<line x1="466.70" y1="706.93" x2="541.80" y2="706.93" stroke="#8a8a8a" stroke-width="1.3"/>
<text x="471.09999999999997" y="706.332" font-size="5.9" fill="#4a4a4a" text-anchor="start" style='font-family:"Liberation Mono", monospace' textLength="18.75" lengthAdjust="spacingAndGlyphs">Sesn3</text>
<line x1="466.70" y1="713.36" x2="541.80" y2="713.36" stroke="#8a8a8a" stroke-width="1.3"/>
<text x="471.09999999999997" y="712.764" font-size="5.9" fill="#4a4a4a" text-anchor="start" style='font-family:"Liberation Mono", monospace' textLength="15.00" lengthAdjust="spacingAndGlyphs">Ppa1</text>
<line x1="466.70" y1="719.80" x2="541.80" y2="719.80" stroke="#8a8a8a" stroke-width="1.3"/>
<text x="471.09999999999997" y="719.196" font-size="5.9" fill="#4a4a4a" text-anchor="start" style='font-family:"Liberation Mono", monospace' textLength="18.75" lengthAdjust="spacingAndGlyphs">Cryaa</text>
<line x1="466.70" y1="726.23" x2="541.80" y2="726.23" stroke="#8a8a8a" stroke-width="1.3"/>
<text x="471.09999999999997" y="725.628" font-size="5.9" fill="#4a4a4a" text-anchor="start" style='font-family:"Liberation Mono", monospace' textLength="15.00" lengthAdjust="spacingAndGlyphs">Mapt</text>
<line x1="466.70" y1="732.66" x2="541.80" y2="732.66" stroke="#8a8a8a" stroke-width="1.3"/>
<text x="471.09999999999997" y="732.0600000000001" font-size="5.9" fill="#4a4a4a" text-anchor="start" style='font-family:"Liberation Mono", monospace' textLength="15.00" lengthAdjust="spacingAndGlyphs">Psap</text>
<line x1="466.70" y1="739.09" x2="541.80" y2="739.09" stroke="#8a8a8a" stroke-width="1.3"/>
<text x="471.09999999999997" y="738.4920000000001" font-size="5.9" fill="#4a4a4a" text-anchor="start" style='font-family:"Liberation Mono", monospace' textLength="11.25" lengthAdjust="spacingAndGlyphs">Ngf</text>
<line x1="466.70" y1="745.52" x2="541.80" y2="745.52" stroke="#8a8a8a" stroke-width="1.3"/>
<text x="471.09999999999997" y="744.9240000000001" font-size="5.9" fill="#4a4a4a" text-anchor="start" style='font-family:"Liberation Mono", monospace' textLength="18.75" lengthAdjust="spacingAndGlyphs">Fabp1</text>
<line x1="466.70" y1="751.96" x2="541.80" y2="751.96" stroke="#8a8a8a" stroke-width="1.3"/>
<text x="471.09999999999997" y="751.356" font-size="5.9" fill="#4a4a4a" text-anchor="start" style='font-family:"Liberation Mono", monospace' textLength="18.75" lengthAdjust="spacingAndGlyphs">Sesn2</text>
<line x1="466.70" y1="758.39" x2="541.80" y2="758.39" stroke="#8a8a8a" stroke-width="1.3"/>
<text x="471.09999999999997" y="757.788" font-size="5.9" fill="#4a4a4a" text-anchor="start" style='font-family:"Liberation Mono", monospace' textLength="22.50" lengthAdjust="spacingAndGlyphs">Sqstm1</text>
<line x1="466.70" y1="764.82" x2="541.80" y2="764.82" stroke="#8a8a8a" stroke-width="1.3"/>
<text x="471.09999999999997" y="764.22" font-size="5.9" fill="#4a4a4a" text-anchor="start" style='font-family:"Liberation Mono", monospace' textLength="18.75" lengthAdjust="spacingAndGlyphs">Trex1</text>
<line x1="466.70" y1="771.25" x2="541.80" y2="771.25" stroke="#8a8a8a" stroke-width="1.3"/>
<text x="471.09999999999997" y="770.652" font-size="5.9" fill="#4a4a4a" text-anchor="start" style='font-family:"Liberation Mono", monospace' textLength="18.75" lengthAdjust="spacingAndGlyphs">Anxa1</text>
<line x1="466.70" y1="777.68" x2="541.80" y2="777.68" stroke="#8a8a8a" stroke-width="1.3"/>
<text x="471.09999999999997" y="777.0840000000001" font-size="5.9" fill="#4a4a4a" text-anchor="start" style='font-family:"Liberation Mono", monospace' textLength="18.75" lengthAdjust="spacingAndGlyphs">Mapk6</text>
<line x1="466.70" y1="784.12" x2="541.80" y2="784.12" stroke="#8a8a8a" stroke-width="1.3"/>
<text x="471.09999999999997" y="783.5160000000001" font-size="5.9" fill="#4a4a4a" text-anchor="start" style='font-family:"Liberation Mono", monospace' textLength="26.25" lengthAdjust="spacingAndGlyphs">Tnfaip3</text>
<line x1="466.70" y1="790.55" x2="541.80" y2="790.55" stroke="#8a8a8a" stroke-width="1.3"/>
<text x="471.09999999999997" y="789.948" font-size="5.9" fill="#4a4a4a" text-anchor="start" style='font-family:"Liberation Mono", monospace' textLength="18.75" lengthAdjust="spacingAndGlyphs">Mpa1l</text>
<line x1="466.70" y1="796.98" x2="541.80" y2="796.98" stroke="#8a8a8a" stroke-width="1.3"/>
<text x="471.09999999999997" y="796.38" font-size="5.9" fill="#4a4a4a" text-anchor="start" style='font-family:"Liberation Mono", monospace' textLength="18.75" lengthAdjust="spacingAndGlyphs">Pcgf2</text>
<line x1="466.70" y1="803.41" x2="541.80" y2="803.41" stroke="#8a8a8a" stroke-width="1.3"/>
<text x="471.09999999999997" y="802.812" font-size="5.9" fill="#4a4a4a" text-anchor="start" style='font-family:"Liberation Mono", monospace' textLength="18.75" lengthAdjust="spacingAndGlyphs">Gstp1</text>
<line x1="466.70" y1="809.84" x2="541.80" y2="809.84" stroke="#8a8a8a" stroke-width="1.3"/>
<text x="471.09999999999997" y="809.244" font-size="5.9" fill="#4a4a4a" text-anchor="start" style='font-family:"Liberation Mono", monospace' textLength="15.00" lengthAdjust="spacingAndGlyphs">Ramp</text>
<line x1="466.70" y1="816.28" x2="541.80" y2="816.28" stroke="#8a8a8a" stroke-width="1.3"/>
<text x="471.09999999999997" y="815.676" font-size="5.9" fill="#4a4a4a" text-anchor="start" style='font-family:"Liberation Mono", monospace' textLength="18.75" lengthAdjust="spacingAndGlyphs">Pex12</text>
<line x1="466.70" y1="822.71" x2="541.80" y2="822.71" stroke="#8a8a8a" stroke-width="1.3"/>
<text x="471.09999999999997" y="822.1080000000001" font-size="5.9" fill="#4a4a4a" text-anchor="start" style='font-family:"Liberation Mono", monospace' textLength="11.25" lengthAdjust="spacingAndGlyphs">Atm</text>
<line x1="466.70" y1="829.14" x2="541.80" y2="829.14" stroke="#8a8a8a" stroke-width="1.3"/>
<text x="471.09999999999997" y="828.5400000000001" font-size="5.9" fill="#4a4a4a" text-anchor="start" style='font-family:"Liberation Mono", monospace' textLength="18.75" lengthAdjust="spacingAndGlyphs">Tacr1</text>
<line x1="466.70" y1="835.57" x2="541.80" y2="835.57" stroke="#8a8a8a" stroke-width="1.3"/>
<text x="471.09999999999997" y="834.9720000000001" font-size="5.9" fill="#4a4a4a" text-anchor="start" style='font-family:"Liberation Mono", monospace' textLength="18.75" lengthAdjust="spacingAndGlyphs">Casp6</text>
<line x1="466.70" y1="842.00" x2="541.80" y2="842.00" stroke="#8a8a8a" stroke-width="1.3"/>
<text x="471.09999999999997" y="841.4040000000001" font-size="5.9" fill="#4a4a4a" text-anchor="start" style='font-family:"Liberation Mono", monospace' textLength="15.00" lengthAdjust="spacingAndGlyphs">Bst1</text>
<line x1="466.70" y1="848.44" x2="541.80" y2="848.44" stroke="#8a8a8a" stroke-width="1.3"/>
<text x="471.09999999999997" y="847.836" font-size="5.9" fill="#4a4a4a" text-anchor="start" style='font-family:"Liberation Mono", monospace' textLength="18.75" lengthAdjust="spacingAndGlyphs">Pex10</text>
<line x1="466.70" y1="854.87" x2="541.80" y2="854.87" stroke="#8a8a8a" stroke-width="1.3"/>
<text x="471.09999999999997" y="854.268" font-size="5.9" fill="#4a4a4a" text-anchor="start" style='font-family:"Liberation Mono", monospace' textLength="18.75" lengthAdjust="spacingAndGlyphs">Stk24</text>
<line x1="466.70" y1="861.30" x2="541.80" y2="861.30" stroke="#8a8a8a" stroke-width="1.3"/>
<text x="471.09999999999997" y="860.7" font-size="5.9" fill="#4a4a4a" text-anchor="start" style='font-family:"Liberation Mono", monospace' textLength="11.25" lengthAdjust="spacingAndGlyphs">Mpo</text>
<line x1="466.70" y1="867.73" x2="541.80" y2="867.73" stroke="#8a8a8a" stroke-width="1.3"/>
<text x="471.09999999999997" y="867.1320000000001" font-size="5.9" fill="#4a4a4a" text-anchor="start" style='font-family:"Liberation Mono", monospace' textLength="26.25" lengthAdjust="spacingAndGlyphs">Gpr37l1</text>
<line x1="466.70" y1="874.16" x2="541.80" y2="874.16" stroke="#8a8a8a" stroke-width="1.3"/>
<text x="471.09999999999997" y="873.564" font-size="5.9" fill="#4a4a4a" text-anchor="start" style='font-family:"Liberation Mono", monospace' textLength="18.75" lengthAdjust="spacingAndGlyphs">Casp3</text>
<line x1="466.70" y1="880.60" x2="541.80" y2="880.60" stroke="#8a8a8a" stroke-width="1.3"/>
<text x="471.09999999999997" y="879.996" font-size="5.9" fill="#4a4a4a" text-anchor="start" style='font-family:"Liberation Mono", monospace' textLength="18.75" lengthAdjust="spacingAndGlyphs">Sirt1</text>
<line x1="466.70" y1="887.03" x2="541.80" y2="887.03" stroke="#8a8a8a" stroke-width="1.3"/>
<text x="471.09999999999997" y="886.428" font-size="5.9" fill="#4a4a4a" text-anchor="start" style='font-family:"Liberation Mono", monospace' textLength="18.75" lengthAdjust="spacingAndGlyphs">Capn1</text>
<line x1="466.70" y1="893.46" x2="541.80" y2="893.46" stroke="#8a8a8a" stroke-width="1.3"/>
<text x="471.09999999999997" y="892.86" font-size="5.9" fill="#4a4a4a" text-anchor="start" style='font-family:"Liberation Mono", monospace' textLength="15.00" lengthAdjust="spacingAndGlyphs">Gpx1</text>
<line x1="466.70" y1="899.89" x2="541.80" y2="899.89" stroke="#8a8a8a" stroke-width="1.3"/>
<text x="471.09999999999997" y="899.292" font-size="5.9" fill="#4a4a4a" text-anchor="start" style='font-family:"Liberation Mono", monospace' textLength="15.00" lengthAdjust="spacingAndGlyphs">Ezr2</text>
</svg>
</body></html>
